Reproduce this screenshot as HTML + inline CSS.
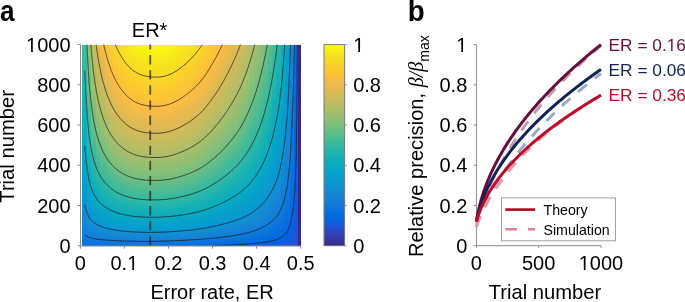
<!DOCTYPE html><html><head><meta charset="utf-8"><style>
html,body{margin:0;padding:0;background:#fff;}
#root{position:relative;width:685px;height:302px;overflow:hidden;background:#fff;}
#hm div{position:absolute;top:0;height:100%;}
svg{position:absolute;left:0;top:0;will-change:transform;}
text{font-family:"Liberation Sans", sans-serif;font-size:20px;}
.pl{font-weight:bold;font-size:28px;}
.lg{font-size:14.2px;}
.ax{stroke:#8c8c8c;stroke-width:1;fill:none;}
.ct{stroke:#1a1a1a;stroke-width:1;fill:none;stroke-opacity:0.72;}
</style></head><body><div id="root"><div id="hm" style="position:absolute;left:0;top:44.60px;width:685px;height:201.10px"><div style="left:82px;width:5px;background:linear-gradient(180deg,#43bb97 0.00%,#14b0b5 36.57%,#08aac0 51.00%,#06a1cc 66.17%,#0997d1 76.37%,#1486d4 88.06%,#127bd9 94.53%,#0972de 98.76%,#056de0 100.00%)"></div><div style="left:87px;width:4px;background:linear-gradient(180deg,#95bf71 0.00%,#71bf80 18.41%,#39b99d 41.79%,#12afb7 60.70%,#08aac1 68.41%,#06a0cd 78.61%,#0b95d2 84.83%,#1486d4 91.54%,#117bd9 96.02%,#0972de 99.00%,#056de0 100.00%)"></div><div style="left:91px;width:5px;background:linear-gradient(180deg,#c3bc5f 0.00%,#9cbf6e 20.15%,#78bf7d 34.33%,#48bb95 49.75%,#1cb2b0 64.93%,#09acbe 73.13%,#06a5c8 78.86%,#0998d1 86.32%,#1487d3 92.54%,#127cd8 96.27%,#0a72de 99.00%,#056de0 100.00%)"></div><div style="left:96px;width:4px;background:linear-gradient(180deg,#e2b952 0.00%,#b6bd64 21.89%,#90bf73 36.57%,#6bbf83 47.76%,#2db7a4 64.18%,#0eaeba 74.38%,#07a9c3 78.86%,#079bd0 86.82%,#1486d4 93.53%,#127bd9 96.77%,#0971de 99.25%,#056de0 100.00%)"></div><div style="left:100px;width:5px;background:linear-gradient(180deg,#f8bb44 0.00%,#ddba54 13.68%,#b2bd66 32.09%,#8dbf75 44.53%,#68be84 54.23%,#2bb6a6 68.66%,#0eaeba 77.11%,#07a9c3 81.09%,#079bd0 88.06%,#1485d4 94.28%,#117ad9 97.26%,#0770df 99.50%,#056de0 100.00%)"></div><div style="left:105px;width:4px;background:linear-gradient(180deg,#fec535 0.00%,#fcbd3f 6.47%,#eeb94b 13.93%,#bfbc60 33.33%,#98bf70 46.27%,#74bf7f 55.47%,#3cba9b 67.16%,#15b1b4 76.62%,#08aac0 81.34%,#06a2cb 86.07%,#0997d1 90.05%,#1487d3 94.28%,#127cd8 97.01%,#0972de 99.25%,#056de0 100.00%)"></div><div style="left:109px;width:4px;background:linear-gradient(180deg,#fbd02c 0.00%,#fec13a 9.95%,#fabc42 14.43%,#e7b94f 22.89%,#babd63 39.80%,#94bf72 51.00%,#6fbf81 59.45%,#31b8a2 71.64%,#10afb8 79.60%,#07aac2 83.08%,#079dcf 89.05%,#0d92d2 92.04%,#1485d4 95.02%,#1079da 97.76%,#056de0 100.00%)"></div><div style="left:113px;width:5px;background:linear-gradient(180deg,#f7d826 0.00%,#ffc338 13.93%,#fbbd40 18.41%,#ebb94d 25.87%,#bcbd62 42.29%,#95bf71 53.23%,#70bf81 61.44%,#32b8a1 72.89%,#11afb7 80.35%,#07aac1 83.83%,#069ece 89.05%,#0b95d2 91.79%,#1486d4 95.02%,#127cd8 97.26%,#0972de 99.25%,#056de0 100.00%)"></div><div style="left:118px;width:4px;background:linear-gradient(180deg,#f5e020 0.00%,#ffc338 17.91%,#fbbc40 22.14%,#eab94e 29.60%,#bcbd62 45.02%,#95bf71 55.47%,#6fbf81 63.18%,#32b8a1 74.13%,#11afb8 81.34%,#07aac1 84.58%,#079dcf 90.05%,#0e92d2 92.79%,#1486d4 95.27%,#127bd9 97.51%,#0871df 99.50%,#056de0 100.00%)"></div><div style="left:122px;width:5px;background:linear-gradient(180deg,#f5e71b 0.00%,#fad32a 11.19%,#fec238 21.14%,#fbbc41 25.12%,#e9b94e 32.34%,#bbbd62 47.01%,#95bf71 56.97%,#70bf81 64.43%,#32b8a2 75.12%,#10afb8 82.09%,#07aac1 85.07%,#079ecf 90.05%,#0c94d2 92.54%,#1485d4 95.52%,#117bd9 97.76%,#0871de 99.50%,#056de0 100.00%)"></div><div style="left:127px;width:4px;background:linear-gradient(180deg,#f5ed17 0.00%,#f7db24 9.20%,#ffc338 23.13%,#fbbc40 27.11%,#e9b94e 34.08%,#bbbd62 48.51%,#95bf71 58.21%,#70bf81 65.42%,#33b8a1 75.62%,#11afb7 82.34%,#08aac1 85.32%,#06a0cd 89.55%,#0a96d1 92.29%,#1486d4 95.52%,#117bd9 97.76%,#0871de 99.50%,#056de0 100.00%)"></div><div style="left:131px;width:4px;background:linear-gradient(180deg,#f6f214 0.00%,#f5de21 9.20%,#ffc337 24.63%,#fbbd40 28.61%,#ebb94d 35.07%,#bdbd61 49.25%,#96bf71 58.96%,#71bf80 65.92%,#37b99e 75.37%,#13b0b6 82.34%,#08abc0 85.32%,#06a3ca 88.81%,#0998d1 92.04%,#1486d3 95.52%,#127cd8 97.51%,#0a72de 99.25%,#056de0 100.00%)"></div><div style="left:135px;width:5px;background:linear-gradient(180deg,#f7f511 0.00%,#f5e31e 8.21%,#ffc238 26.12%,#fbbc41 29.85%,#e9b94e 36.57%,#bbbd62 50.50%,#95bf71 59.70%,#70bf81 66.67%,#32b8a1 76.62%,#11afb8 83.08%,#08aac1 85.82%,#06a1cd 89.80%,#0a96d1 92.54%,#1487d3 95.52%,#127dd8 97.51%,#0a73de 99.25%,#056de0 100.00%)"></div><div style="left:140px;width:4px;background:linear-gradient(180deg,#f8f80f 0.00%,#f5e41d 8.71%,#ffc238 26.87%,#fbbc40 30.60%,#eab94e 37.06%,#bcbd62 50.75%,#96bf71 59.95%,#71bf80 66.92%,#33b8a0 76.62%,#11afb7 83.08%,#07aac1 86.07%,#069fce 90.30%,#0b95d1 92.79%,#1487d3 95.52%,#127dd8 97.51%,#0a73de 99.25%,#056de0 100.00%)"></div><div style="left:144px;width:5px;background:linear-gradient(180deg,#f9fa0e 0.00%,#f5e41d 9.20%,#ffc238 27.36%,#fbbc41 31.09%,#eab94e 37.56%,#bcbd62 51.24%,#95bf71 60.45%,#70bf80 67.16%,#33b8a1 76.87%,#11afb8 83.33%,#08aac1 86.07%,#06a0cd 90.05%,#0a97d1 92.54%,#1487d3 95.52%,#137dd8 97.51%,#0a73de 99.25%,#056de0 100.00%)"></div><div style="left:149px;width:4px;background:linear-gradient(180deg,#f9fb0e 0.00%,#f5e41d 9.45%,#ffc338 27.61%,#fbbc41 31.34%,#eab94e 37.81%,#bbbd62 51.49%,#94bf71 60.70%,#70bf81 67.41%,#32b8a1 77.11%,#11afb7 83.33%,#08aac1 86.07%,#06a1cd 90.05%,#0a97d1 92.54%,#1487d3 95.52%,#137dd8 97.51%,#0a73de 99.25%,#056de0 100.00%)"></div><div style="left:153px;width:4px;background:linear-gradient(180deg,#f9fb0e 0.00%,#f5e51d 9.45%,#ffc338 27.61%,#fbbc40 31.34%,#eab94e 37.81%,#bbbd62 51.49%,#94bf71 60.70%,#70bf81 67.41%,#32b8a1 77.11%,#11afb7 83.33%,#08aac1 86.07%,#06a0cd 90.05%,#0a97d1 92.54%,#1487d3 95.52%,#127dd8 97.51%,#0a72de 99.25%,#046de0 100.00%)"></div><div style="left:157px;width:5px;background:linear-gradient(180deg,#f9fb0e 0.00%,#f5e51d 9.45%,#ffc338 27.61%,#fbbc41 31.34%,#eab94e 37.81%,#bbbd62 51.49%,#95bf71 60.45%,#71bf80 67.16%,#34b8a0 76.62%,#12afb7 83.08%,#08aac0 85.82%,#06a2cb 89.30%,#0998d1 92.29%,#1487d3 95.52%,#127cd8 97.51%,#0972de 99.25%,#046ce0 100.00%)"></div><div style="left:162px;width:4px;background:linear-gradient(180deg,#f9fa0e 0.00%,#f5e41d 9.20%,#ffc238 27.36%,#fbbc41 31.09%,#eab94e 37.56%,#bbbd62 51.24%,#94bf71 60.45%,#70bf81 67.16%,#32b8a1 76.87%,#10afb8 83.33%,#07a9c2 86.32%,#079cd0 91.29%,#1485d4 95.77%,#1079da 98.01%,#046ce0 100.00%)"></div><div style="left:166px;width:5px;background:linear-gradient(180deg,#f8f810 0.00%,#f5e41d 8.71%,#ffc238 26.87%,#fbbc41 30.60%,#eab94e 37.06%,#bcbd62 50.75%,#95bf71 59.95%,#70bf81 66.92%,#32b8a1 76.62%,#11afb8 83.08%,#08aac1 85.82%,#06a0cd 90.05%,#0b96d1 92.54%,#1486d4 95.52%,#127cd8 97.51%,#0971de 99.25%,#036be0 100.00%)"></div><div style="left:171px;width:4px;background:linear-gradient(180deg,#f7f512 0.00%,#f5e31e 8.21%,#ffc238 25.87%,#fbbc40 29.60%,#e9b94e 36.32%,#bbbd62 50.25%,#95bf71 59.45%,#70bf81 66.42%,#32b8a1 76.37%,#11afb8 82.84%,#08aac1 85.57%,#06a0cd 89.80%,#0a96d1 92.29%,#1487d3 95.27%,#127dd8 97.26%,#0a72de 99.00%,#036be1 100.00%)"></div><div style="left:175px;width:4px;background:linear-gradient(180deg,#f6f214 0.00%,#f5de21 9.20%,#ffc338 24.63%,#fbbc41 28.61%,#eab94e 35.32%,#bbbd62 49.50%,#94bf71 58.96%,#70bf81 65.92%,#33b8a1 75.87%,#11afb7 82.34%,#08aac1 85.32%,#06a0cd 89.55%,#0b95d1 92.29%,#1486d4 95.27%,#127cd8 97.26%,#0972de 99.00%,#036ae1 100.00%)"></div><div style="left:179px;width:5px;background:linear-gradient(180deg,#f5ed17 0.00%,#f6dc23 8.96%,#ffc337 23.13%,#fbbd40 27.11%,#ebb94d 33.58%,#bdbd61 48.01%,#97bf71 57.71%,#72bf80 64.93%,#38b99d 74.38%,#13b0b6 81.59%,#08aac0 84.83%,#06a2cb 88.56%,#0998d1 91.54%,#1487d3 95.02%,#127dd8 97.01%,#0b73dd 98.76%,#026ae1 100.00%)"></div><div style="left:184px;width:4px;background:linear-gradient(180deg,#f5e91a 0.00%,#f8d627 10.20%,#ffc338 21.64%,#fbbd40 25.62%,#ebb94d 32.34%,#bdbd61 47.01%,#96bf71 56.97%,#72bf80 64.18%,#38b99e 73.88%,#13b0b6 81.09%,#08abc0 84.33%,#06a3cb 88.06%,#0998d1 91.29%,#1487d3 94.78%,#127cd8 97.01%,#0871de 99.00%,#0269e1 100.00%)"></div><div style="left:188px;width:5px;background:linear-gradient(180deg,#f5e41d 0.00%,#ffc338 19.90%,#fbbc41 24.13%,#e9b94e 31.34%,#bbbd62 46.27%,#95bf71 56.22%,#70bf81 63.68%,#32b8a1 74.38%,#10afb8 81.34%,#07a9c2 84.58%,#079cd0 90.05%,#1486d4 94.78%,#127cd9 97.01%,#0870df 99.00%,#0269e1 100.00%)"></div><div style="left:193px;width:4px;background:linear-gradient(180deg,#f5e020 0.00%,#ffc238 17.91%,#fbbc41 22.14%,#e9b94e 29.60%,#bbbd62 44.78%,#95bf71 54.98%,#70bf81 62.69%,#32b8a1 73.63%,#10afb8 80.85%,#07aac2 84.08%,#079ccf 89.55%,#0f90d2 92.54%,#1484d4 95.02%,#1078da 97.51%,#0268e1 100.00%)"></div><div style="left:197px;width:5px;background:linear-gradient(180deg,#f6db24 0.00%,#ffc338 15.42%,#fbbc41 19.90%,#e9b94e 27.36%,#bcbd62 43.03%,#95bf71 53.73%,#6fbf81 61.69%,#32b8a2 72.89%,#11afb8 80.10%,#07aac1 83.33%,#06a0cd 88.06%,#0b95d1 91.04%,#1487d3 94.28%,#127dd8 96.52%,#0a72de 98.51%,#0268e1 100.00%)"></div><div style="left:202px;width:4px;background:linear-gradient(180deg,#f8d627 0.00%,#ffc338 12.69%,#fbbc41 17.16%,#eab94e 24.88%,#bbbd62 41.29%,#94bf71 52.24%,#6fbf81 60.45%,#32b8a1 71.89%,#11afb7 79.35%,#07aac1 82.84%,#069fce 88.06%,#0b95d2 90.80%,#1487d3 94.03%,#127cd8 96.52%,#0972de 98.51%,#0267e1 100.00%)"></div><div style="left:206px;width:4px;background:linear-gradient(180deg,#fbd02c 0.00%,#fec239 9.95%,#fabc42 14.43%,#e8b94f 22.64%,#babd62 39.30%,#94bf72 50.50%,#6ebf81 58.96%,#31b8a2 70.90%,#11afb8 78.61%,#07aac1 82.09%,#069ece 87.56%,#0c94d2 90.55%,#1486d3 93.78%,#127cd8 96.27%,#0971de 98.51%,#0269e1 99.75%,#0266e1 100.00%)"></div><div style="left:210px;width:5px;background:linear-gradient(180deg,#fdca31 0.00%,#fec03b 7.46%,#f5ba47 13.68%,#cebb5a 29.60%,#a5be6b 43.53%,#80bf7a 53.23%,#50bc90 63.18%,#23b4ab 72.89%,#0badbc 79.35%,#06a7c5 82.84%,#089ad0 88.56%,#1486d4 93.53%,#117bd9 96.27%,#0870df 98.51%,#0268e1 99.75%,#0266e1 100.00%)"></div><div style="left:215px;width:4px;background:linear-gradient(180deg,#ffc436 0.00%,#fcbd40 5.97%,#edb94c 13.68%,#bebc61 32.59%,#97bf70 45.27%,#72bf80 54.48%,#39b99d 66.42%,#14b0b5 75.62%,#08abc0 79.85%,#06a3cb 84.58%,#0998d1 88.56%,#1487d3 93.03%,#127cd8 95.77%,#0871de 98.26%,#0267e1 99.75%,#0265e1 100.00%)"></div><div style="left:219px;width:5px;background:linear-gradient(180deg,#febe3d 0.00%,#f3b948 6.97%,#c4bc5e 27.11%,#9cbf6e 41.04%,#78bf7d 51.00%,#45bb96 62.19%,#1bb2b0 72.39%,#09acbe 78.11%,#06a6c7 82.09%,#0999d1 87.81%,#1486d4 92.79%,#127cd8 95.52%,#0971de 98.01%,#0269e1 99.50%,#0364e1 100.00%)"></div><div style="left:224px;width:4px;background:linear-gradient(180deg,#f7ba45 0.00%,#d8ba56 15.17%,#adbe68 32.59%,#87bf77 44.53%,#5dbe8a 54.98%,#28b6a7 67.41%,#0daeba 75.37%,#06a8c3 79.35%,#079bd0 86.32%,#1486d4 92.54%,#117bd9 95.52%,#0871de 98.01%,#0268e1 99.50%,#0364e1 100.00%)"></div><div style="left:228px;width:4px;background:linear-gradient(180deg,#eeb94b 0.00%,#bfbc60 21.89%,#98bf70 36.57%,#74bf7f 47.01%,#3cba9b 60.45%,#15b0b4 71.39%,#08abc0 76.62%,#06a2cb 82.09%,#0997d1 86.82%,#1487d3 91.79%,#127cd8 95.02%,#0871de 97.76%,#0267e1 99.50%,#0363e1 100.00%)"></div><div style="left:232px;width:5px;background:linear-gradient(180deg,#e4b951 0.00%,#b7bd64 21.39%,#91bf73 35.57%,#6bbe83 46.52%,#2db7a4 62.44%,#0eaeba 72.39%,#07a9c3 76.87%,#089bd0 84.83%,#1486d4 91.54%,#127bd9 94.78%,#0971de 97.51%,#0268e1 99.25%,#0462e1 100.00%)"></div><div style="left:237px;width:4px;background:linear-gradient(180deg,#daba55 0.00%,#aebe67 20.65%,#89bf76 34.58%,#60be88 46.52%,#2ab6a6 61.19%,#0eaeba 70.90%,#07a9c3 75.37%,#089bd0 83.83%,#1486d4 91.04%,#117bd9 94.53%,#0870df 97.51%,#0267e1 99.25%,#0364e1 99.75%,#0561e0 100.00%)"></div><div style="left:241px;width:5px;background:linear-gradient(180deg,#cebb5a 0.00%,#a5be6b 19.65%,#81bf7a 33.08%,#51bd90 47.01%,#24b5aa 60.70%,#0badbc 70.15%,#06a7c5 75.12%,#0899d1 83.33%,#1486d4 90.30%,#127bd9 94.03%,#0870df 97.26%,#0268e1 99.00%,#0363e1 99.75%,#0761e0 100.00%)"></div><div style="left:246px;width:4px;background:linear-gradient(180deg,#c1bc60 0.00%,#99bf70 18.91%,#75bf7f 32.34%,#3eba9a 49.00%,#16b1b4 62.94%,#08aac0 70.15%,#06a2cb 77.11%,#0998d1 82.84%,#1486d3 89.30%,#127cd8 93.28%,#0871de 96.77%,#0267e1 99.00%,#0562e0 99.75%,#0960df 100.00%)"></div><div style="left:250px;width:4px;background:linear-gradient(180deg,#b2bd66 0.00%,#8cbf75 17.91%,#66be85 31.84%,#2bb6a5 51.49%,#0eaeba 63.93%,#07a9c3 69.40%,#079bd0 79.60%,#1485d4 88.81%,#117ad9 93.28%,#066fdf 97.01%,#0267e1 98.76%,#0363e1 99.50%,#0a5fdf 100.00%)"></div><div style="left:254px;width:5px;background:linear-gradient(180deg,#a2be6c 0.00%,#7dbf7b 16.92%,#4dbc92 34.58%,#20b4ad 51.99%,#0aacbe 63.18%,#06a6c7 69.90%,#0999d1 79.10%,#1486d4 87.31%,#127bd9 92.04%,#0871de 96.02%,#0267e1 98.51%,#0363e1 99.25%,#0c5ede 100.00%)"></div><div style="left:259px;width:4px;background:linear-gradient(180deg,#8fbf74 0.00%,#6abe83 16.67%,#2cb7a5 41.54%,#0eaeba 56.47%,#07a9c3 63.18%,#089bd0 75.62%,#1486d4 86.07%,#117bd9 91.29%,#0770df 95.77%,#0267e1 98.26%,#0462e1 99.25%,#0e5dde 100.00%)"></div><div style="left:263px;width:5px;background:linear-gradient(180deg,#79bf7d 0.00%,#47bb95 22.14%,#1cb3af 42.79%,#09acbe 54.98%,#06a5c8 63.18%,#0998d1 74.38%,#1487d3 83.83%,#127cd8 89.80%,#0871de 94.78%,#0267e1 98.01%,#0462e1 99.00%,#0f5cdd 100.00%)"></div><div style="left:268px;width:4px;background:linear-gradient(180deg,#5fbe88 0.00%,#29b6a7 27.36%,#0daeba 45.27%,#06a8c3 53.73%,#089ad0 69.15%,#1485d4 82.34%,#117ad9 89.05%,#066fdf 94.78%,#0267e1 97.51%,#0562e0 98.76%,#125adc 100.00%)"></div><div style="left:272px;width:4px;background:linear-gradient(180deg,#43bb97 0.00%,#1ab2b1 26.37%,#09abbf 41.04%,#06a5c8 51.99%,#0998d1 66.17%,#1487d3 78.61%,#127cd8 86.32%,#0871de 92.79%,#0267e1 97.01%,#0462e1 98.26%,#115bdc 99.75%,#1459da 100.00%)"></div><div style="left:276px;width:5px;background:linear-gradient(180deg,#29b6a7 0.00%,#0daebb 24.63%,#06a8c3 36.32%,#089ad0 57.21%,#1486d4 75.12%,#117bd9 84.33%,#076fdf 92.04%,#0267e1 96.27%,#0462e1 97.76%,#115adc 99.50%,#1758d9 100.00%)"></div><div style="left:281px;width:4px;background:linear-gradient(180deg,#0faeb9 0.00%,#07a9c2 15.67%,#079bd0 43.78%,#1485d4 67.91%,#117ad9 79.85%,#066fdf 90.05%,#0267e1 94.78%,#0462e1 96.77%,#115bdc 99.00%,#1a56d7 100.00%)"></div><div style="left:285px;width:5px;background:linear-gradient(180deg,#06a3ca 0.00%,#0998d1 25.87%,#1486d3 52.24%,#127cd8 68.91%,#0871df 83.33%,#0267e1 92.29%,#0462e1 95.02%,#135adb 98.51%,#1c55d6 100.00%)"></div><div style="left:290px;width:4px;background:linear-gradient(180deg,#1389d3 0.00%,#137ed7 33.08%,#0b73dd 60.95%,#0267e1 83.58%,#0462e1 89.80%,#135adb 96.27%,#1f53d4 100.00%)"></div><div style="left:294px;width:4px;background:linear-gradient(180deg,#0870df 0.00%,#0267e1 50.25%,#0562e0 66.92%,#135adb 86.32%,#2152d2 100.00%)"></div><div style="left:298px;width:3px;background:linear-gradient(180deg,#352a87 0.00%,#352a87 100.00%)"></div></div><div style="position:absolute;left:324.0px;top:44.6px;width:20.6px;height:201.1px;background:linear-gradient(0deg,#352a87 0.00%,#36369f 3.12%,#3243b9 6.25%,#2152d3 9.38%,#0462e0 12.50%,#046ce0 15.62%,#0c74dd 18.75%,#127cd8 21.88%,#1484d4 25.00%,#118dd2 28.12%,#0a97d1 31.25%,#069fce 34.38%,#06a6c7 37.50%,#09abbf 40.62%,#13b0b6 43.75%,#21b4ac 46.88%,#33b8a1 50.00%,#47bb95 53.12%,#5ebe89 56.25%,#75bf7e 59.38%,#8bbf75 62.50%,#9fbe6d 65.62%,#b1bd66 68.75%,#c2bc5f 71.88%,#d3bb58 75.00%,#e3b951 78.12%,#f2b949 81.25%,#febf3c 84.38%,#fec932 87.50%,#f9d329 90.62%,#f5de21 93.75%,#f5eb18 96.88%,#f9fb0e 100.00%)"></div><svg width="685" height="302" viewBox="0 0 685 302"><path d="M213.1,245.7 216.9,245.6 220.6,245.4 225.8,245.3 227.1,245.2 230.2,245.1 232.8,244.9 234.6,244.9 237.8,244.7 239.0,244.6 242.2,244.4 243.4,244.4 246.1,244.2 247.8,244.1 249.5,243.9 252.2,243.7 255.3,243.4 256.6,243.3 257.7,243.2 259.9,242.9 261.0,242.8 261.9,242.7 263.7,242.4 265.4,242.2 266.9,241.9 268.3,241.7 269.6,241.4 270.7,241.2 271.8,240.9 272.9,240.7 273.8,240.4 274.7,240.2 275.6,239.9 276.4,239.7 277.1,239.4 277.8,239.2 278.5,238.9 279.0,238.7 280.0,238.2 280.9,237.7 281.8,237.2 282.5,236.7 283.1,236.3 283.5,235.9 284.1,235.4 284.6,234.9 285.1,234.4 285.6,233.9 286.0,233.4 286.4,232.9 286.8,232.4 287.2,231.9 287.5,231.4 287.9,230.6 288.2,229.9 288.6,229.1 288.9,228.4 289.2,227.6 289.4,226.8 289.7,226.1 289.9,225.3 290.1,224.6 290.3,223.8 290.5,223.1 290.7,222.3 290.9,221.6 291.1,220.8 291.2,220.1 291.4,219.3 291.6,218.6 291.7,217.8 291.8,217.0 292.0,216.3 292.1,215.5 292.2,214.8 292.4,214.0 292.5,213.3 292.6,212.5 292.7,211.8 292.8,211.0 292.9,210.3 293.0,209.5 293.1,208.7 293.2,208.0 293.3,207.2 293.4,206.5 293.5,205.7 293.5,205.0 293.6,204.2 293.7,203.5 293.8,202.7 293.8,202.0 293.9,201.2 294.0,200.5 294.0,199.7 294.1,198.9 294.2,198.2 294.2,197.4 294.3,196.7 294.3,195.9 294.4,195.2 294.5,194.4 294.5,193.7 294.6,192.9 294.6,192.2 294.7,191.4 294.7,190.6 294.8,189.9 294.8,189.1 294.9,188.1 294.9,187.1 295.0,186.1 295.0,185.1 295.1,184.1 295.1,183.1 295.2,182.1 295.2,181.1 295.3,180.1 295.3,179.1 295.4,178.1 295.4,177.1 295.5,176.1 295.5,175.1 295.6,174.1 295.6,173.1 295.6,172.0 295.7,171.0 295.7,170.0 295.8,169.0 295.8,168.0 295.8,167.0 295.9,166.0 295.9,165.0 295.9,164.0 296.0,163.0 296.0,162.0 296.0,161.0 296.1,160.0 296.1,159.0 296.1,158.0 296.2,157.0 296.2,156.0 296.2,155.0 296.2,153.9 296.3,152.9 296.3,151.9 296.3,150.9 296.3,149.9 296.3,148.9 296.3,147.9 296.4,146.9 296.4,145.9 296.4,144.9 296.4,143.9 296.4,142.9 296.4,141.9 296.4,140.9 296.4,139.9 296.5,138.9 296.5,137.9 296.5,136.9 296.5,135.8 296.5,134.8 296.5,133.8 296.5,132.8 296.5,131.8 296.5,130.8 296.5,129.8 296.6,128.8 296.6,127.8 296.6,126.8 296.6,125.8 296.6,124.8 296.6,123.8 296.6,122.8 296.6,121.8 296.6,120.8 296.6,119.8 296.7,118.8 296.7,117.8 296.7,116.7 296.7,115.7 296.7,114.7 296.7,113.7 296.7,112.7 296.7,111.7 296.7,110.7 296.7,109.7 296.8,108.7 296.8,107.7 296.8,106.7 296.8,105.7 296.8,104.7 296.8,103.7 296.8,102.7 296.8,101.7 296.8,100.7 296.8,99.7 296.8,98.6 296.8,97.6 296.9,96.6 296.9,95.6 296.9,94.6 296.9,93.6 296.9,92.6 296.9,91.6 296.9,90.6 296.9,89.6 296.9,88.6 296.9,87.6 296.9,86.6 296.9,85.6 297.0,84.6 297.0,83.6 297.0,82.6 297.0,81.6 297.0,80.5 297.0,79.5 297.0,78.5 297.0,77.5 297.0,76.5 297.0,75.5 297.0,74.5 297.0,73.5 297.0,72.5 297.0,71.5 297.1,70.5 297.1,69.5 297.1,68.5 297.1,67.5 297.1,66.5 297.1,65.5 297.1,64.5 297.1,63.5 297.1,62.4 297.1,61.4 297.1,60.4 297.1,59.4 297.1,58.4 297.1,57.4 297.1,56.4 297.2,55.4 297.2,54.4 297.2,53.4 297.2,52.4 297.2,51.4 297.2,50.4 297.2,49.4 297.2,48.4 297.2,47.4 297.2,46.4 297.2,45.4 297.2,44.6" class="ct"/>
<path d="M84.7,234.9 85.4,235.4 86.1,235.9 86.9,236.4 87.8,236.9 88.8,237.4 89.5,237.7 90.4,237.9 91.4,238.2 92.5,238.4 93.5,238.6 95.3,238.9 97.1,239.2 97.9,239.3 99.1,239.4 101.5,239.7 102.3,239.8 104.2,239.9 106.7,240.1 111.0,240.4 115.5,240.7 120.0,240.9 121.4,240.9 124.4,241.0 128.8,241.2 129.9,241.2 133.2,241.2 137.6,241.3 142.0,241.4 146.4,241.4 150.8,241.4 155.2,241.3 159.6,241.2 164.1,241.1 168.5,240.9 172.9,240.8 175.3,240.7 177.3,240.6 181.0,240.4 186.1,240.2 190.5,239.9 194.9,239.7 198.7,239.4 202.1,239.2 203.7,239.0 205.2,238.9 208.1,238.7 210.7,238.4 212.5,238.2 215.7,237.9 216.9,237.8 218.0,237.7 220.2,237.4 221.4,237.3 222.3,237.2 224.3,236.9 225.8,236.7 228.0,236.4 229.8,236.1 231.5,235.9 233.2,235.6 234.6,235.4 236.3,235.1 237.7,234.9 239.0,234.7 240.4,234.4 241.7,234.1 242.9,233.9 244.0,233.6 245.1,233.4 246.2,233.1 247.2,232.9 248.2,232.6 249.1,232.4 250.0,232.1 250.9,231.9 251.8,231.6 252.6,231.4 253.4,231.1 254.1,230.9 254.9,230.6 255.6,230.4 256.3,230.1 257.0,229.9 257.6,229.6 258.2,229.4 258.8,229.1 259.4,228.9 260.0,228.6 260.6,228.4 261.2,228.1 262.2,227.6 263.2,227.1 264.1,226.6 265.0,226.1 265.9,225.6 266.7,225.1 267.5,224.6 268.2,224.1 268.9,223.6 269.6,223.1 270.3,222.6 270.9,222.1 271.5,221.6 272.1,221.1 272.6,220.6 273.2,220.1 273.7,219.6 274.2,219.1 274.7,218.6 275.1,218.0 275.6,217.5 276.0,217.0 276.4,216.5 276.8,216.0 277.2,215.5 277.6,215.0 278.0,214.5 278.3,214.0 278.7,213.6 278.9,213.0 279.3,212.3 279.7,211.5 280.1,210.8 280.5,210.0 280.8,209.3 281.1,208.5 281.5,207.7 281.8,207.0 282.1,206.2 282.4,205.5 282.7,204.7 283.0,204.0 283.2,203.2 283.4,202.5 283.7,201.7 283.9,201.0 284.1,200.2 284.3,199.4 284.5,198.7 284.7,197.9 284.9,197.2 285.1,196.4 285.3,195.7 285.4,194.9 285.6,194.2 285.8,193.4 286.0,192.7 286.1,191.9 286.3,191.2 286.4,190.4 286.6,189.6 286.7,188.9 286.9,188.1 287.0,187.4 287.2,186.6 287.3,185.9 287.4,185.1 287.6,184.4 287.6,183.6 287.7,182.9 287.8,182.1 287.9,181.3 288.0,180.6 288.1,179.8 288.2,179.1 288.3,178.3 288.4,177.6 288.4,176.8 288.5,176.1 288.6,175.3 288.7,174.6 288.8,173.8 288.8,173.1 288.9,172.3 289.0,171.5 289.1,170.8 289.1,170.0 289.2,169.3 289.3,168.5 289.3,167.8 289.4,167.0 289.5,166.3 289.5,165.5 289.6,164.8 289.7,164.0 289.7,163.2 289.8,162.5 289.8,161.7 289.9,161.0 290.0,160.2 290.0,159.5 290.1,158.7 290.1,158.0 290.2,157.2 290.2,156.5 290.3,155.7 290.3,155.0 290.4,154.2 290.4,153.4 290.5,152.7 290.5,151.9 290.6,151.2 290.6,150.4 290.7,149.7 290.7,148.9 290.8,148.2 290.8,147.4 290.9,146.7 290.9,145.7 291.0,144.6 291.1,143.6 291.1,142.6 291.2,141.6 291.2,140.6 291.3,139.6 291.3,138.6 291.4,137.6 291.5,136.6 291.5,135.6 291.6,134.6 291.6,133.6 291.7,132.6 291.7,131.6 291.8,130.6 291.8,129.6 291.9,128.6 291.9,127.6 291.9,126.5 292.0,125.5 292.0,124.5 292.1,123.5 292.1,122.5 292.2,121.5 292.2,120.5 292.2,119.5 292.3,118.5 292.3,117.5 292.4,116.5 292.4,115.5 292.4,114.5 292.5,113.5 292.5,112.5 292.6,111.5 292.6,110.5 292.6,109.5 292.7,108.4 292.7,107.4 292.7,106.4 292.8,105.4 292.8,104.4 292.8,103.4 292.9,102.4 292.9,101.4 292.9,100.4 293.0,99.4 293.0,98.4 293.0,97.4 293.1,96.4 293.1,95.4 293.1,94.4 293.2,93.4 293.2,92.4 293.2,91.4 293.2,90.4 293.3,89.3 293.3,88.3 293.3,87.3 293.4,86.3 293.4,85.3 293.4,84.3 293.4,83.3 293.5,82.3 293.5,81.3 293.5,80.3 293.5,79.3 293.6,78.3 293.6,77.3 293.6,76.3 293.7,75.3 293.7,74.3 293.7,73.3 293.7,72.3 293.8,71.2 293.8,70.2 293.8,69.2 293.8,68.2 293.8,67.2 293.9,66.2 293.9,65.2 293.9,64.2 293.9,63.2 294.0,62.2 294.0,61.2 294.0,60.2 294.0,59.2 294.0,58.2 294.1,57.2 294.1,56.2 294.1,55.2 294.1,54.2 294.2,53.1 294.2,52.1 294.2,51.1 294.2,50.1 294.2,49.1 294.3,48.1 294.3,47.1 294.3,46.1 294.3,45.1 294.3,44.6" class="ct"/>
<path d="M84.7,204.9 84.9,205.7 85.1,206.5 85.3,207.2 85.5,208.0 85.8,208.7 86.0,209.5 86.2,210.3 86.5,211.0 86.7,211.8 87.0,212.5 87.3,213.3 87.6,214.0 87.9,214.8 88.2,215.5 88.5,216.3 88.9,217.0 89.3,217.8 89.7,218.3 90.1,218.8 90.5,219.3 91.0,219.8 91.4,220.3 91.9,220.8 92.4,221.3 92.9,221.8 93.4,222.3 94.1,222.8 94.9,223.3 95.7,223.8 96.6,224.3 97.5,224.8 98.5,225.3 99.1,225.6 99.7,225.8 100.3,226.1 100.9,226.3 101.6,226.6 102.2,226.8 103.0,227.1 103.7,227.3 104.6,227.6 105.4,227.9 106.2,228.1 107.2,228.4 108.2,228.6 109.3,228.9 110.3,229.1 111.2,229.3 112.8,229.6 114.2,229.9 115.6,230.1 117.3,230.4 119.1,230.6 120.0,230.7 121.1,230.9 123.3,231.1 124.4,231.2 125.8,231.4 128.7,231.6 132.4,231.9 133.2,231.9 137.4,232.1 142.0,232.3 146.4,232.4 147.4,232.4 150.8,232.4 152.9,232.4 155.2,232.3 159.6,232.2 162.5,232.1 164.1,232.1 168.3,231.9 172.5,231.6 176.1,231.4 177.3,231.3 179.3,231.1 181.7,230.9 185.0,230.6 186.1,230.5 187.5,230.4 189.9,230.1 192.2,229.9 194.3,229.6 196.3,229.4 198.2,229.1 199.3,229.0 200.0,228.9 201.7,228.6 203.4,228.4 204.8,228.1 206.2,227.9 207.6,227.6 208.9,227.3 210.2,227.1 211.4,226.8 212.5,226.6 213.8,226.3 215.0,226.1 216.2,225.8 216.9,225.7 218.4,225.3 219.4,225.1 220.5,224.8 221.4,224.6 222.4,224.3 223.4,224.1 224.4,223.8 225.3,223.6 226.2,223.3 227.1,223.1 228.0,222.8 228.8,222.6 229.7,222.3 230.5,222.1 231.3,221.8 232.1,221.6 232.9,221.3 233.7,221.1 234.5,220.8 235.2,220.6 236.0,220.3 236.7,220.1 237.4,219.8 238.1,219.6 238.8,219.3 239.4,219.1 240.0,218.8 240.6,218.6 241.2,218.3 241.8,218.0 242.4,217.8 243.0,217.5 243.5,217.3 244.6,216.8 245.6,216.3 246.6,215.8 247.5,215.3 248.4,214.8 249.3,214.3 250.2,213.8 251.0,213.3 251.8,212.8 252.6,212.3 253.3,211.8 254.0,211.3 254.7,210.8 255.4,210.3 256.1,209.8 256.6,209.4 257.1,209.0 257.7,208.5 258.2,208.0 258.8,207.5 259.4,207.0 259.9,206.5 260.5,206.0 261.0,205.5 261.5,205.0 262.0,204.5 262.5,204.0 262.9,203.5 263.4,203.0 263.8,202.5 264.3,202.0 264.7,201.5 265.1,201.0 265.5,200.5 265.9,199.9 266.3,199.4 266.7,198.9 267.0,198.4 267.4,197.9 267.8,197.4 268.1,196.9 268.5,196.4 268.8,195.9 269.1,195.4 269.5,194.9 269.8,194.4 270.1,193.9 270.5,193.2 270.9,192.4 271.4,191.7 271.8,190.9 272.2,190.1 272.6,189.4 273.0,188.6 273.3,187.9 273.7,187.1 274.1,186.4 274.4,185.6 274.7,184.9 275.0,184.1 275.4,183.4 275.7,182.6 276.0,181.9 276.2,181.1 276.5,180.3 276.8,179.6 277.1,178.8 277.4,178.1 277.6,177.3 277.9,176.6 278.2,175.8 278.4,175.1 278.7,174.3 278.9,173.6 279.0,172.8 279.2,172.0 279.4,171.3 279.6,170.5 279.8,169.8 279.9,169.0 280.1,168.3 280.3,167.5 280.4,166.8 280.6,166.0 280.8,165.3 280.9,164.5 281.1,163.8 281.2,163.0 281.4,162.2 281.5,161.5 281.7,160.7 281.8,160.0 282.0,159.2 282.1,158.5 282.3,157.7 282.4,157.0 282.5,156.2 282.7,155.5 282.8,154.7 282.9,153.9 283.1,153.2 283.2,152.4 283.3,151.7 283.4,150.9 283.5,150.2 283.6,149.4 283.7,148.7 283.8,147.9 283.9,147.2 284.0,146.4 284.1,145.7 284.2,144.9 284.3,144.1 284.4,143.4 284.5,142.6 284.6,141.9 284.7,141.1 284.7,140.4 284.8,139.6 284.9,138.9 285.0,138.1 285.1,137.4 285.2,136.6 285.3,135.8 285.3,135.1 285.4,134.3 285.5,133.6 285.6,132.8 285.7,132.1 285.8,131.3 285.8,130.6 285.9,129.8 286.0,129.1 286.1,128.3 286.1,127.6 286.2,126.8 286.3,126.0 286.4,125.3 286.4,124.5 286.5,123.8 286.6,123.0 286.6,122.3 286.7,121.5 286.8,120.8 286.9,120.0 286.9,119.3 287.0,118.5 287.1,117.8 287.1,117.0 287.2,116.2 287.3,115.5 287.3,114.7 287.4,114.0 287.4,113.2 287.5,112.5 287.6,111.5 287.6,110.5 287.7,109.5 287.7,108.4 287.8,107.4 287.8,106.4 287.9,105.4 288.0,104.4 288.0,103.4 288.1,102.4 288.1,101.4 288.2,100.4 288.2,99.4 288.3,98.4 288.3,97.4 288.4,96.4 288.4,95.4 288.5,94.4 288.5,93.4 288.6,92.4 288.6,91.4 288.7,90.4 288.7,89.3 288.8,88.3 288.8,87.3 288.9,86.3 288.9,85.3 289.0,84.3 289.0,83.3 289.0,82.3 289.1,81.3 289.1,80.3 289.2,79.3 289.2,78.3 289.3,77.3 289.3,76.3 289.3,75.3 289.4,74.3 289.4,73.3 289.5,72.3 289.5,71.2 289.5,70.2 289.6,69.2 289.6,68.2 289.7,67.2 289.7,66.2 289.7,65.2 289.8,64.2 289.8,63.2 289.8,62.2 289.9,61.2 289.9,60.2 290.0,59.2 290.0,58.2 290.0,57.2 290.1,56.2 290.1,55.2 290.1,54.2 290.2,53.1 290.2,52.1 290.2,51.1 290.3,50.1 290.3,49.1 290.3,48.1 290.4,47.1 290.4,46.1 290.4,45.1 290.4,44.6" class="ct"/>
<path d="M84.7,145.9 84.8,146.9 84.9,147.7 84.9,148.4 85.0,149.2 85.1,149.9 85.1,150.7 85.2,151.4 85.3,152.2 85.4,152.9 85.4,153.7 85.5,154.5 85.6,155.2 85.7,156.0 85.7,156.7 85.8,157.5 85.9,158.2 86.0,159.0 86.1,159.7 86.1,160.5 86.2,161.2 86.3,162.0 86.4,162.7 86.5,163.5 86.6,164.3 86.7,165.0 86.8,165.8 86.9,166.5 87.0,167.3 87.1,168.0 87.2,168.8 87.3,169.5 87.4,170.3 87.5,171.0 87.6,171.8 87.7,172.5 87.8,173.3 88.0,174.1 88.1,174.8 88.2,175.6 88.3,176.3 88.5,177.1 88.6,177.8 88.7,178.6 88.9,179.3 89.0,180.1 89.1,180.8 89.4,181.6 89.6,182.4 89.8,183.1 90.0,183.9 90.2,184.6 90.5,185.4 90.7,186.1 91.0,186.9 91.2,187.6 91.5,188.4 91.8,189.1 92.0,189.9 92.3,190.6 92.6,191.4 92.9,192.2 93.2,192.9 93.5,193.7 93.9,194.4 94.2,194.9 94.5,195.4 94.8,195.9 95.2,196.4 95.5,196.9 95.8,197.4 96.1,197.9 96.5,198.4 96.8,198.9 97.2,199.4 97.5,199.9 97.9,200.5 98.4,201.0 98.8,201.5 99.3,202.0 99.8,202.5 100.3,203.0 100.8,203.5 101.4,204.0 101.9,204.5 102.3,204.9 103.1,205.5 103.8,206.0 104.5,206.5 105.2,207.0 105.9,207.5 106.6,208.0 107.5,208.5 108.4,209.0 109.3,209.5 110.3,210.0 111.2,210.4 111.9,210.8 112.5,211.0 113.1,211.3 113.7,211.5 114.3,211.8 114.9,212.0 115.6,212.3 116.3,212.5 117.1,212.8 117.9,213.0 118.7,213.3 119.5,213.5 120.3,213.8 121.3,214.0 122.3,214.3 123.3,214.5 124.4,214.8 125.7,215.0 127.0,215.3 128.3,215.5 129.9,215.8 131.6,216.0 133.2,216.3 135.8,216.5 137.6,216.7 138.6,216.8 142.0,217.0 146.4,217.2 149.8,217.3 150.8,217.3 152.8,217.3 155.2,217.3 159.6,217.2 162.0,217.0 164.1,216.9 166.2,216.8 168.5,216.6 169.4,216.5 171.9,216.3 172.9,216.2 174.1,216.0 176.2,215.8 177.3,215.7 178.1,215.5 179.9,215.3 181.6,215.0 183.2,214.8 184.7,214.5 186.1,214.3 187.5,214.0 188.9,213.8 190.2,213.5 191.4,213.3 192.6,213.0 193.8,212.8 194.9,212.5 196.1,212.3 197.1,212.0 198.1,211.8 199.2,211.5 200.1,211.3 201.0,211.0 201.9,210.8 202.8,210.5 203.7,210.3 204.5,210.0 205.2,209.8 206.0,209.5 206.7,209.3 207.4,209.0 208.1,208.8 208.9,208.5 209.5,208.2 210.2,208.0 210.9,207.7 211.5,207.5 212.2,207.2 212.8,207.0 213.5,206.7 214.1,206.5 214.7,206.2 215.4,206.0 216.0,205.7 216.6,205.5 217.2,205.2 217.8,205.0 218.3,204.7 218.9,204.5 219.5,204.2 220.0,204.0 220.6,203.7 221.4,203.4 222.2,203.0 223.2,202.5 224.2,202.0 225.2,201.5 225.8,201.2 226.7,200.7 227.6,200.2 228.5,199.7 229.4,199.2 230.2,198.8 230.8,198.4 231.7,197.9 232.5,197.4 233.4,196.9 234.2,196.4 235.0,195.9 235.8,195.4 236.5,194.9 237.3,194.4 238.0,193.9 238.8,193.4 239.5,192.9 240.1,192.4 240.7,191.9 241.4,191.4 242.0,190.9 242.6,190.4 243.2,189.9 243.8,189.4 244.3,188.9 244.9,188.4 245.4,187.9 246.0,187.4 246.5,186.9 247.0,186.4 247.5,185.9 248.0,185.4 248.5,184.9 248.9,184.4 249.4,183.9 249.9,183.4 250.3,182.9 250.7,182.4 251.2,181.9 251.6,181.3 252.0,180.8 252.5,180.3 252.8,179.8 253.2,179.3 253.6,178.8 254.0,178.3 254.4,177.8 254.7,177.3 255.1,176.8 255.5,176.3 255.8,175.8 256.2,175.3 256.5,174.8 256.9,174.3 257.2,173.8 257.5,173.3 257.8,172.8 258.1,172.3 258.4,171.8 258.7,171.3 259.0,170.8 259.3,170.3 259.8,169.5 260.2,168.8 260.6,168.0 261.0,167.3 261.3,166.8 261.7,166.0 262.1,165.3 262.5,164.5 262.8,163.8 263.2,163.0 263.5,162.2 263.9,161.5 264.3,160.7 264.6,160.0 264.9,159.2 265.3,158.5 265.6,157.7 265.9,157.0 266.2,156.2 266.5,155.5 266.8,154.7 267.1,153.9 267.4,153.2 267.6,152.4 267.9,151.7 268.2,150.9 268.5,150.2 268.7,149.4 269.0,148.7 269.3,147.9 269.5,147.2 269.8,146.4 270.0,145.7 270.3,144.9 270.5,144.1 270.7,143.4 270.9,142.6 271.2,141.9 271.4,141.1 271.6,140.4 271.8,139.6 272.0,138.9 272.2,138.1 272.5,137.4 272.7,136.6 272.9,135.8 273.1,135.1 273.3,134.3 273.5,133.6 273.7,132.8 273.9,132.1 274.0,131.3 274.2,130.6 274.4,129.8 274.6,129.1 274.7,128.3 274.9,127.6 275.1,126.8 275.2,126.0 275.4,125.3 275.6,124.5 275.7,123.8 275.9,123.0 276.0,122.3 276.2,121.5 276.3,120.8 276.5,120.0 276.6,119.3 276.8,118.5 276.9,117.8 277.1,117.0 277.2,116.2 277.4,115.5 277.5,114.7 277.7,114.0 277.8,113.2 277.9,112.5 278.1,111.7 278.2,111.0 278.3,110.2 278.5,109.5 278.6,108.7 278.7,107.9 278.8,107.2 278.9,106.4 279.0,105.7 279.1,104.9 279.2,104.2 279.3,103.4 279.4,102.7 279.5,101.9 279.6,101.2 279.7,100.4 279.8,99.7 279.9,98.9 280.0,98.1 280.1,97.4 280.1,96.6 280.2,95.9 280.3,95.1 280.4,94.4 280.5,93.6 280.6,92.9 280.7,92.1 280.7,91.4 280.8,90.6 280.9,89.8 281.0,89.1 281.1,88.3 281.2,87.6 281.2,86.8 281.3,86.1 281.4,85.3 281.5,84.6 281.6,83.8 281.6,83.1 281.7,82.3 281.8,81.6 281.9,80.8 281.9,80.0 282.0,79.3 282.1,78.5 282.2,77.8 282.2,77.0 282.3,76.3 282.4,75.5 282.5,74.8 282.5,74.0 282.6,73.3 282.7,72.5 282.8,71.7 282.8,71.0 282.9,70.2 283.0,69.5 283.0,68.7 283.1,68.0 283.1,67.2 283.2,66.5 283.3,65.7 283.3,65.0 283.4,64.2 283.4,63.5 283.5,62.7 283.5,61.9 283.6,61.2 283.6,60.4 283.7,59.7 283.8,58.9 283.8,58.2 283.9,57.4 283.9,56.7 284.0,55.9 284.0,55.2 284.1,54.4 284.1,53.6 284.2,52.9 284.2,52.1 284.3,51.4 284.3,50.6 284.4,49.9 284.4,49.1 284.5,48.4 284.5,47.6 284.6,46.9 284.6,46.1 284.7,45.4 284.7,44.6" class="ct"/>
<path d="M84.7,70.7 84.7,71.5 84.8,72.5 84.8,73.5 84.9,74.5 84.9,75.5 85.0,76.5 85.0,77.5 85.1,78.5 85.1,79.5 85.2,80.5 85.2,81.6 85.3,82.6 85.3,83.6 85.4,84.6 85.4,85.6 85.5,86.6 85.5,87.6 85.6,88.6 85.6,89.6 85.7,90.6 85.8,91.6 85.8,92.6 85.9,93.6 85.9,94.6 86.0,95.6 86.1,96.6 86.1,97.6 86.2,98.6 86.2,99.4 86.3,100.2 86.3,100.9 86.4,101.7 86.4,102.4 86.5,103.2 86.5,103.9 86.6,104.7 86.6,105.4 86.7,106.2 86.7,106.9 86.8,107.7 86.8,108.4 86.9,109.2 86.9,110.0 87.0,110.7 87.0,111.5 87.1,112.2 87.1,113.0 87.2,113.7 87.2,114.5 87.3,115.2 87.4,116.0 87.4,116.7 87.5,117.5 87.5,118.3 87.6,119.0 87.7,119.8 87.7,120.5 87.8,121.3 87.8,122.0 87.9,122.8 88.0,123.5 88.0,124.3 88.1,125.0 88.2,125.8 88.2,126.5 88.3,127.3 88.4,128.1 88.4,128.8 88.5,129.6 88.6,130.3 88.6,131.1 88.7,131.8 88.8,132.6 88.9,133.3 88.9,134.1 89.0,134.8 89.1,135.6 89.2,136.4 89.3,137.1 89.4,137.9 89.5,138.6 89.7,139.4 89.8,140.1 89.9,140.9 90.0,141.6 90.1,142.4 90.3,143.1 90.4,143.9 90.5,144.6 90.7,145.4 90.8,146.2 90.9,146.9 91.1,147.7 91.2,148.4 91.4,149.2 91.5,149.9 91.6,150.7 91.8,151.4 91.9,152.2 92.1,152.9 92.3,153.7 92.4,154.5 92.6,155.2 92.7,156.0 92.9,156.7 93.1,157.5 93.2,158.2 93.4,159.0 93.6,159.7 93.8,160.5 94.1,161.2 94.3,162.0 94.6,162.7 94.9,163.5 95.1,164.3 95.4,165.0 95.7,165.8 95.9,166.5 96.2,167.3 96.5,168.0 96.8,168.8 97.1,169.5 97.4,170.3 97.7,171.0 98.1,171.8 98.5,172.5 98.9,173.3 99.3,174.1 99.7,174.8 100.1,175.6 100.6,176.3 101.0,177.1 101.3,177.6 101.6,178.1 101.9,178.6 102.2,179.1 102.6,179.6 103.0,180.1 103.4,180.6 103.8,181.1 104.2,181.6 104.6,182.1 105.0,182.6 105.4,183.1 105.8,183.6 106.3,184.1 106.7,184.6 107.2,185.1 107.8,185.6 108.3,186.1 108.9,186.6 109.4,187.1 110.0,187.6 110.6,188.1 111.1,188.6 111.8,189.1 112.6,189.6 113.3,190.1 114.0,190.6 114.8,191.2 115.5,191.7 116.5,192.2 117.4,192.7 118.3,193.2 119.3,193.7 120.0,194.0 121.0,194.4 121.6,194.7 122.2,194.9 122.8,195.2 123.4,195.4 124.1,195.7 124.8,195.9 125.6,196.2 126.4,196.4 127.2,196.7 128.0,196.9 128.8,197.2 129.8,197.4 130.9,197.7 132.0,197.9 133.1,198.2 134.5,198.4 136.0,198.7 137.5,198.9 139.7,199.2 142.0,199.4 145.5,199.7 146.4,199.8 150.8,199.9 155.2,199.9 159.6,199.8 161.2,199.7 164.1,199.5 164.9,199.4 167.3,199.2 168.5,199.1 169.4,198.9 171.2,198.7 172.9,198.4 174.3,198.2 175.7,197.9 177.1,197.7 178.3,197.4 179.5,197.2 180.6,196.9 181.7,196.7 182.8,196.4 183.8,196.2 184.8,195.9 185.8,195.7 186.8,195.4 187.7,195.2 188.5,194.9 189.4,194.7 190.3,194.4 191.1,194.2 191.9,193.9 192.7,193.7 193.5,193.4 194.3,193.2 194.9,193.0 195.7,192.7 196.4,192.4 197.1,192.2 197.8,191.9 198.5,191.7 199.1,191.4 199.8,191.2 200.4,190.9 201.0,190.6 201.6,190.4 202.1,190.1 202.7,189.9 203.3,189.6 203.9,189.4 204.9,188.9 205.8,188.4 206.8,187.9 207.8,187.4 208.7,186.9 209.5,186.4 210.4,185.9 211.3,185.4 212.1,184.9 213.0,184.4 213.8,183.9 214.6,183.4 215.4,182.9 216.2,182.4 216.9,181.9 217.8,181.3 218.5,180.8 219.3,180.3 220.0,179.8 220.7,179.3 221.4,178.9 222.1,178.3 222.8,177.8 223.4,177.3 224.1,176.8 224.8,176.3 225.4,175.8 226.0,175.3 226.7,174.8 227.3,174.3 227.9,173.8 228.5,173.3 229.1,172.8 229.7,172.3 230.2,171.9 230.8,171.3 231.4,170.8 231.9,170.3 232.5,169.8 233.1,169.3 233.6,168.8 234.2,168.3 234.6,167.9 235.2,167.3 235.7,166.8 236.2,166.3 236.7,165.8 237.2,165.3 237.7,164.8 238.2,164.3 238.6,163.8 239.1,163.2 239.5,162.7 239.9,162.2 240.4,161.7 240.8,161.2 241.2,160.7 241.6,160.2 242.0,159.7 242.4,159.2 242.8,158.7 243.2,158.2 243.6,157.7 243.9,157.2 244.3,156.7 244.6,156.2 245.0,155.7 245.3,155.2 245.7,154.7 246.0,154.2 246.4,153.7 246.7,153.2 247.0,152.7 247.4,152.2 247.7,151.7 248.0,151.2 248.3,150.7 248.6,150.2 248.9,149.7 249.2,149.2 249.7,148.4 250.1,147.7 250.6,146.9 251.0,146.2 251.4,145.4 251.8,144.6 252.2,143.9 252.5,143.4 252.9,142.6 253.3,141.9 253.6,141.1 254.0,140.4 254.4,139.6 254.7,138.9 255.1,138.1 255.4,137.4 255.8,136.6 256.1,135.8 256.5,135.1 256.8,134.3 257.1,133.6 257.4,132.8 257.7,132.1 258.0,131.3 258.3,130.6 258.6,129.8 258.9,129.1 259.2,128.3 259.5,127.6 259.8,126.8 260.1,126.0 260.3,125.3 260.6,124.5 260.9,123.8 261.2,123.0 261.4,122.3 261.7,121.5 261.9,120.8 262.1,120.0 262.4,119.3 262.6,118.5 262.9,117.8 263.1,117.0 263.3,116.2 263.6,115.5 263.8,114.7 264.0,114.0 264.3,113.2 264.5,112.5 264.7,111.7 264.9,111.0 265.1,110.2 265.4,109.5 265.6,108.7 265.8,107.9 266.0,107.2 266.1,106.4 266.3,105.7 266.5,104.9 266.7,104.2 266.9,103.4 267.1,102.7 267.3,101.9 267.5,101.2 267.7,100.4 267.8,99.7 268.0,98.9 268.2,98.1 268.4,97.4 268.5,96.6 268.7,95.9 268.9,95.1 269.1,94.4 269.2,93.6 269.4,92.9 269.6,92.1 269.7,91.4 269.9,90.6 270.1,89.8 270.2,89.1 270.4,88.3 270.5,87.6 270.7,86.8 270.8,86.1 270.9,85.3 271.1,84.6 271.2,83.8 271.4,83.1 271.5,82.3 271.7,81.6 271.8,80.8 271.9,80.0 272.1,79.3 272.2,78.5 272.3,77.8 272.5,77.0 272.6,76.3 272.7,75.5 272.9,74.8 273.0,74.0 273.1,73.3 273.3,72.5 273.4,71.7 273.5,71.0 273.6,70.2 273.8,69.5 273.9,68.7 274.0,68.0 274.1,67.2 274.3,66.5 274.4,65.7 274.5,65.0 274.6,64.2 274.7,63.5 274.8,62.7 274.9,61.9 275.0,61.2 275.1,60.4 275.2,59.7 275.3,58.9 275.5,58.2 275.6,57.4 275.7,56.7 275.8,55.9 275.9,55.2 276.0,54.4 276.1,53.6 276.2,52.9 276.3,52.1 276.4,51.4 276.5,50.6 276.6,49.9 276.7,49.1 276.8,48.4 276.8,47.6 276.9,46.9 277.0,46.1 277.1,45.4 277.2,44.6" class="ct"/>
<path d="M87.0,44.6 87.0,45.6 87.1,46.6 87.1,47.6 87.2,48.6 87.2,49.6 87.3,50.6 87.3,51.6 87.4,52.6 87.4,53.6 87.5,54.7 87.5,55.7 87.6,56.7 87.6,57.7 87.7,58.7 87.7,59.7 87.8,60.7 87.8,61.7 87.9,62.7 87.9,63.7 88.0,64.7 88.1,65.7 88.1,66.7 88.2,67.7 88.2,68.7 88.3,69.7 88.3,70.7 88.4,71.7 88.5,72.8 88.5,73.8 88.6,74.8 88.6,75.8 88.7,76.5 88.7,77.3 88.8,78.0 88.8,78.8 88.9,79.5 88.9,80.3 89.0,81.0 89.0,81.8 89.1,82.6 89.1,83.3 89.2,84.1 89.3,84.8 89.3,85.6 89.4,86.3 89.5,87.1 89.6,87.8 89.6,88.6 89.7,89.3 89.8,90.1 89.9,90.9 89.9,91.6 90.0,92.4 90.1,93.1 90.2,93.9 90.3,94.6 90.3,95.4 90.4,96.1 90.5,96.9 90.6,97.6 90.7,98.4 90.8,99.1 90.8,99.9 90.9,100.7 91.0,101.4 91.1,102.2 91.2,102.9 91.3,103.7 91.4,104.4 91.5,105.2 91.6,105.9 91.7,106.7 91.8,107.4 91.9,108.2 92.0,109.0 92.1,109.7 92.1,110.5 92.2,111.2 92.4,112.0 92.5,112.7 92.6,113.5 92.7,114.2 92.8,115.0 92.9,115.7 93.0,116.5 93.1,117.2 93.2,118.0 93.3,118.8 93.4,119.5 93.5,120.3 93.7,121.0 93.9,121.8 94.0,122.5 94.2,123.3 94.3,124.0 94.5,124.8 94.7,125.5 94.8,126.3 95.0,127.1 95.2,127.8 95.4,128.6 95.5,129.3 95.7,130.1 95.9,130.8 96.1,131.6 96.3,132.3 96.5,133.1 96.7,133.8 96.8,134.6 97.0,135.3 97.2,136.1 97.4,136.9 97.6,137.6 97.9,138.4 98.1,139.1 98.4,139.9 98.6,140.6 98.9,141.4 99.2,142.1 99.4,142.9 99.7,143.6 100.0,144.4 100.3,145.1 100.6,145.9 100.9,146.7 101.2,147.4 101.5,148.2 101.8,148.9 102.1,149.7 102.4,150.4 102.8,151.2 103.2,151.9 103.6,152.7 104.0,153.4 104.4,154.2 104.8,155.0 105.3,155.7 105.7,156.5 106.1,157.2 106.6,158.0 106.9,158.5 107.2,159.0 107.6,159.5 108.0,160.0 108.3,160.5 108.7,161.0 109.1,161.5 109.5,162.0 109.9,162.5 110.3,163.0 110.7,163.5 111.1,164.0 111.5,164.5 112.0,165.0 112.5,165.5 113.0,166.0 113.5,166.5 114.0,167.0 114.5,167.5 115.0,168.0 115.6,168.5 116.2,169.0 116.8,169.5 117.5,170.0 118.1,170.5 118.8,171.0 119.5,171.5 120.0,171.9 120.6,172.3 121.5,172.8 122.3,173.3 123.2,173.8 124.0,174.3 125.1,174.8 125.6,175.1 126.2,175.3 126.7,175.6 127.3,175.8 127.8,176.1 128.4,176.3 129.0,176.6 129.8,176.8 130.5,177.1 131.2,177.3 132.0,177.6 132.7,177.8 133.6,178.1 134.6,178.3 135.7,178.6 136.7,178.8 137.6,179.0 139.5,179.3 141.0,179.6 142.0,179.7 142.9,179.8 145.4,180.1 146.4,180.2 149.2,180.3 150.8,180.4 155.2,180.4 158.9,180.3 162.8,180.1 164.1,180.0 165.2,179.8 167.1,179.6 168.5,179.4 170.1,179.1 171.4,178.8 172.7,178.6 173.7,178.3 174.8,178.1 175.8,177.8 176.8,177.6 177.7,177.3 178.6,177.1 179.5,176.8 180.3,176.6 181.2,176.3 182.0,176.1 182.7,175.8 183.5,175.6 184.2,175.3 184.9,175.1 185.6,174.8 186.3,174.6 187.0,174.3 187.6,174.1 188.3,173.8 188.9,173.6 189.6,173.3 190.2,173.1 190.8,172.8 191.4,172.5 192.0,172.3 192.5,172.0 193.1,171.8 193.7,171.5 194.2,171.3 194.8,171.0 195.8,170.5 196.8,170.0 197.8,169.5 198.8,169.0 199.3,168.7 200.1,168.3 201.0,167.8 201.8,167.3 202.7,166.8 203.5,166.3 204.3,165.8 205.0,165.3 205.7,164.8 206.4,164.3 207.1,163.8 207.8,163.2 208.4,162.7 209.1,162.2 209.7,161.7 210.3,161.2 210.9,160.7 211.5,160.2 212.2,159.7 212.8,159.2 213.4,158.7 214.0,158.2 214.6,157.7 215.1,157.2 215.7,156.7 216.3,156.2 216.9,155.7 217.4,155.2 218.0,154.7 218.5,154.2 219.0,153.7 219.5,153.2 220.1,152.7 220.6,152.2 221.1,151.7 221.6,151.2 222.1,150.7 222.6,150.2 223.1,149.7 223.5,149.2 224.0,148.7 224.5,148.2 224.9,147.7 225.4,147.2 225.9,146.7 226.3,146.2 226.8,145.7 227.2,145.1 227.6,144.6 228.1,144.1 228.5,143.6 228.9,143.1 229.3,142.6 229.8,142.1 230.2,141.6 230.6,141.1 231.0,140.6 231.4,140.1 231.8,139.6 232.2,139.1 232.6,138.6 233.0,138.1 233.4,137.6 233.8,137.1 234.2,136.6 234.6,136.1 235.0,135.6 235.3,135.1 235.7,134.6 236.0,134.1 236.4,133.6 236.8,133.1 237.1,132.6 237.5,132.1 237.8,131.6 238.2,131.1 238.5,130.6 238.8,130.1 239.2,129.6 239.5,129.1 239.8,128.6 240.1,128.1 240.4,127.6 240.7,127.1 241.1,126.3 241.6,125.5 242.0,124.8 242.4,124.0 242.8,123.3 243.3,122.5 243.7,121.8 244.1,121.0 244.4,120.3 244.8,119.5 245.2,118.8 245.6,118.0 245.9,117.2 246.3,116.5 246.7,115.7 247.0,115.0 247.4,114.2 247.7,113.5 248.1,112.7 248.4,112.0 248.7,111.2 249.1,110.5 249.4,109.7 249.7,109.0 250.0,108.2 250.3,107.4 250.6,106.7 251.0,105.9 251.3,105.2 251.6,104.4 251.9,103.7 252.2,102.9 252.4,102.2 252.7,101.4 253.0,100.7 253.3,99.9 253.5,99.1 253.8,98.4 254.1,97.6 254.3,96.9 254.6,96.1 254.8,95.4 255.1,94.6 255.3,93.9 255.6,93.1 255.8,92.4 256.1,91.6 256.3,90.9 256.6,90.1 256.8,89.3 257.0,88.6 257.3,87.8 257.5,87.1 257.7,86.3 257.9,85.6 258.1,84.8 258.3,84.1 258.6,83.3 258.8,82.6 259.0,81.8 259.2,81.0 259.4,80.3 259.6,79.5 259.8,78.8 260.0,78.0 260.2,77.3 260.4,76.5 260.6,75.8 260.8,75.0 261.0,74.3 261.2,73.5 261.4,72.8 261.5,72.0 261.7,71.2 261.9,70.5 262.1,69.7 262.2,69.0 262.4,68.2 262.6,67.5 262.8,66.7 262.9,66.0 263.1,65.2 263.3,64.5 263.4,63.7 263.6,63.0 263.8,62.2 263.9,61.4 264.1,60.7 264.3,59.9 264.4,59.2 264.6,58.4 264.7,57.7 264.9,56.9 265.1,56.2 265.2,55.4 265.4,54.7 265.5,53.9 265.7,53.1 265.8,52.4 265.9,51.6 266.1,50.9 266.2,50.1 266.4,49.4 266.5,48.6 266.6,47.9 266.8,47.1 266.9,46.4 267.0,45.6 267.2,44.9 267.2,44.6" class="ct"/>
<path d="M90.9,44.6 91.0,45.4 91.0,46.1 91.1,46.9 91.2,47.6 91.2,48.4 91.3,49.1 91.4,49.9 91.4,50.6 91.5,51.4 91.6,52.1 91.6,52.9 91.7,53.6 91.7,54.4 91.8,55.2 91.9,55.9 91.9,56.7 92.0,57.4 92.1,58.2 92.2,58.9 92.2,59.7 92.3,60.4 92.4,61.2 92.4,61.9 92.5,62.7 92.6,63.5 92.6,64.2 92.7,65.0 92.8,65.7 92.9,66.5 92.9,67.2 93.0,68.0 93.1,68.7 93.2,69.5 93.2,70.2 93.3,71.0 93.4,71.7 93.5,72.5 93.6,73.3 93.7,74.0 93.8,74.8 93.9,75.5 94.0,76.3 94.1,77.0 94.2,77.8 94.3,78.5 94.5,79.3 94.6,80.0 94.7,80.8 94.8,81.6 94.9,82.3 95.1,83.1 95.2,83.8 95.3,84.6 95.4,85.3 95.5,86.1 95.7,86.8 95.8,87.6 95.9,88.3 96.1,89.1 96.2,89.8 96.3,90.6 96.4,91.4 96.6,92.1 96.7,92.9 96.8,93.6 97.0,94.4 97.1,95.1 97.3,95.9 97.4,96.6 97.5,97.4 97.7,98.1 97.8,98.9 98.0,99.7 98.2,100.4 98.4,101.2 98.5,101.9 98.7,102.7 98.9,103.4 99.1,104.2 99.3,104.9 99.5,105.7 99.7,106.4 99.9,107.2 100.1,107.9 100.3,108.7 100.5,109.5 100.7,110.2 100.9,111.0 101.2,111.7 101.4,112.5 101.6,113.2 101.8,114.0 102.0,114.7 102.3,115.5 102.5,116.2 102.8,117.0 103.1,117.8 103.3,118.5 103.6,119.3 103.9,120.0 104.2,120.8 104.5,121.5 104.8,122.3 105.1,123.0 105.4,123.8 105.7,124.5 106.0,125.3 106.3,126.0 106.6,126.8 107.0,127.6 107.4,128.3 107.8,129.1 108.2,129.8 108.6,130.6 109.0,131.3 109.4,132.1 109.8,132.8 110.3,133.6 110.7,134.3 111.1,135.1 111.5,135.6 111.8,136.1 112.2,136.6 112.5,137.1 112.9,137.6 113.3,138.1 113.6,138.6 114.0,139.1 114.4,139.6 114.7,140.1 115.1,140.6 115.5,141.1 116.0,141.6 116.4,142.1 116.9,142.6 117.4,143.1 117.8,143.6 118.3,144.1 118.8,144.6 119.3,145.1 119.8,145.7 120.4,146.2 121.0,146.7 121.6,147.2 122.2,147.7 122.9,148.2 123.5,148.7 124.1,149.2 124.9,149.7 125.7,150.2 126.5,150.7 127.3,151.2 128.1,151.7 128.8,152.1 129.6,152.4 130.6,152.9 131.7,153.4 132.3,153.7 132.8,153.9 133.5,154.2 134.2,154.5 135.0,154.7 135.8,155.0 136.6,155.2 137.3,155.5 138.4,155.7 139.5,156.0 140.7,156.2 141.8,156.5 143.5,156.7 145.4,157.0 146.4,157.1 147.9,157.2 150.8,157.4 153.4,157.5 155.2,157.5 159.6,157.4 161.2,157.2 164.0,157.0 165.5,156.7 166.9,156.5 168.4,156.2 169.4,156.0 170.4,155.7 171.4,155.5 172.3,155.2 173.2,155.0 174.0,154.7 174.8,154.5 175.6,154.2 176.4,153.9 177.1,153.7 177.8,153.4 178.5,153.2 179.1,152.9 179.8,152.7 180.4,152.4 181.1,152.2 181.7,151.9 182.3,151.7 182.8,151.4 183.4,151.2 183.9,150.9 184.5,150.7 185.0,150.4 185.6,150.2 186.6,149.7 187.6,149.2 188.6,148.7 189.6,148.2 190.5,147.7 191.4,147.2 192.3,146.7 193.1,146.2 194.0,145.7 194.8,145.1 195.6,144.6 196.3,144.1 197.1,143.6 197.8,143.1 198.6,142.6 199.3,142.1 199.9,141.6 200.6,141.1 201.2,140.6 201.9,140.1 202.5,139.6 203.1,139.1 203.7,138.7 204.3,138.1 204.8,137.6 205.4,137.1 205.9,136.6 206.4,136.1 206.9,135.6 207.5,135.1 208.0,134.6 208.5,134.1 208.9,133.6 209.4,133.1 209.9,132.6 210.3,132.1 210.8,131.6 211.3,131.1 211.7,130.6 212.2,130.1 212.6,129.6 213.1,129.1 213.6,128.6 214.0,128.1 214.4,127.6 214.9,127.1 215.3,126.5 215.8,126.0 216.2,125.5 216.6,125.0 217.1,124.5 217.5,124.0 217.9,123.5 218.3,123.0 218.7,122.5 219.1,122.0 219.5,121.5 219.8,121.0 220.2,120.5 220.6,120.0 221.0,119.5 221.4,119.1 221.8,118.5 222.1,118.0 222.5,117.5 222.9,117.0 223.2,116.5 223.6,116.0 223.9,115.5 224.3,115.0 224.6,114.5 225.0,114.0 225.3,113.5 225.7,113.0 226.0,112.5 226.4,112.0 226.7,111.5 227.0,111.0 227.3,110.5 227.7,110.0 228.0,109.5 228.3,109.0 228.6,108.4 229.0,107.9 229.3,107.4 229.6,106.9 229.9,106.4 230.2,105.9 230.5,105.4 230.8,104.9 231.2,104.4 231.5,103.9 231.8,103.4 232.1,102.9 232.4,102.4 232.7,101.9 233.0,101.4 233.4,100.7 233.9,99.9 234.3,99.1 234.7,98.4 235.1,97.6 235.5,96.9 236.0,96.1 236.4,95.4 236.8,94.6 237.2,93.9 237.6,93.1 237.9,92.4 238.3,91.6 238.7,90.9 239.1,90.1 239.4,89.3 239.8,88.6 240.1,87.8 240.5,87.1 240.8,86.3 241.1,85.6 241.4,84.8 241.8,84.1 242.1,83.3 242.4,82.6 242.7,81.8 243.1,81.0 243.4,80.3 243.7,79.5 244.0,78.8 244.3,78.0 244.5,77.3 244.8,76.5 245.1,75.8 245.4,75.0 245.7,74.3 245.9,73.5 246.2,72.8 246.5,72.0 246.8,71.2 247.0,70.5 247.3,69.7 247.6,69.0 247.8,68.3 248.0,67.7 248.3,67.0 248.5,66.2 248.7,65.5 249.0,64.7 249.2,64.0 249.5,63.2 249.7,62.4 249.9,61.7 250.2,60.9 250.4,60.2 250.6,59.4 250.9,58.7 251.1,57.9 251.3,57.2 251.6,56.4 251.8,55.7 252.0,54.9 252.2,54.2 252.4,53.4 252.6,52.6 252.9,51.9 253.1,51.1 253.3,50.4 253.5,49.6 253.7,48.9 253.9,48.1 254.1,47.4 254.3,46.6 254.4,45.9 254.6,45.1 254.8,44.6" class="ct"/>
<path d="M96.2,44.6 96.2,45.4 96.3,46.1 96.4,46.9 96.5,47.6 96.6,48.4 96.7,49.1 96.8,49.9 97.0,50.6 97.1,51.4 97.2,52.1 97.3,52.9 97.4,53.6 97.5,54.4 97.6,55.2 97.7,55.9 97.8,56.7 97.9,57.4 98.0,58.2 98.2,58.9 98.3,59.7 98.5,60.4 98.6,61.2 98.7,61.9 98.9,62.7 99.0,63.5 99.2,64.2 99.3,65.0 99.5,65.7 99.6,66.5 99.8,67.2 99.9,68.0 100.1,68.7 100.2,69.5 100.4,70.2 100.6,71.0 100.7,71.7 100.9,72.5 101.0,73.3 101.2,74.0 101.4,74.8 101.5,75.5 101.7,76.3 101.9,77.0 102.0,77.8 102.2,78.5 102.3,79.2 102.6,80.0 102.8,80.8 103.0,81.6 103.2,82.3 103.4,83.1 103.6,83.8 103.9,84.6 104.1,85.3 104.3,86.1 104.5,86.8 104.8,87.6 105.0,88.3 105.2,89.1 105.5,89.8 105.7,90.6 105.9,91.4 106.2,92.1 106.4,92.9 106.6,93.6 106.9,94.4 107.2,95.1 107.5,95.9 107.8,96.6 108.1,97.4 108.4,98.1 108.8,98.9 109.1,99.7 109.4,100.4 109.7,101.2 110.0,101.9 110.4,102.7 110.7,103.4 111.0,104.2 111.4,104.9 111.8,105.7 112.2,106.4 112.6,107.2 113.1,107.9 113.5,108.7 113.9,109.5 114.3,110.2 114.8,111.0 115.2,111.7 115.6,112.3 116.0,113.0 116.4,113.5 116.8,114.0 117.1,114.5 117.5,115.0 117.9,115.5 118.3,116.0 118.6,116.5 119.0,117.0 119.4,117.5 119.8,118.0 120.2,118.5 120.7,119.0 121.2,119.5 121.6,120.0 122.1,120.5 122.6,121.0 123.1,121.5 123.6,122.0 124.1,122.5 124.6,123.0 125.3,123.5 125.9,124.0 126.5,124.5 127.2,125.0 127.8,125.5 128.5,126.0 129.2,126.5 130.1,127.1 130.9,127.6 131.8,128.1 132.6,128.6 133.2,128.9 134.2,129.3 134.8,129.6 135.4,129.8 136.0,130.1 136.6,130.3 137.2,130.6 137.9,130.8 138.8,131.1 139.7,131.3 140.6,131.6 141.5,131.8 142.7,132.1 144.1,132.3 145.6,132.6 146.4,132.7 147.5,132.8 150.1,133.1 155.2,133.3 159.6,133.1 162.2,132.8 164.1,132.6 165.5,132.3 166.6,132.1 167.8,131.8 168.8,131.6 169.6,131.3 170.4,131.1 171.2,130.8 172.0,130.6 172.8,130.3 173.4,130.1 174.0,129.8 174.7,129.6 175.3,129.3 175.9,129.1 176.5,128.8 177.1,128.6 178.2,128.1 179.2,127.6 180.3,127.1 181.3,126.5 182.2,126.0 183.1,125.5 184.0,125.0 184.9,124.5 185.8,124.0 186.6,123.5 187.4,123.0 188.2,122.5 188.9,122.0 189.7,121.5 190.5,121.0 191.2,120.5 191.8,120.0 192.5,119.5 193.2,119.0 193.9,118.5 194.6,118.0 195.2,117.5 195.8,117.0 196.4,116.5 197.0,116.0 197.6,115.5 198.2,115.0 198.7,114.5 199.3,114.0 199.8,113.5 200.4,113.0 200.9,112.5 201.4,112.0 201.9,111.5 202.4,111.0 202.9,110.5 203.4,110.0 203.9,109.5 204.3,109.0 204.7,108.4 205.1,107.9 205.6,107.4 206.0,106.9 206.4,106.4 206.8,105.9 207.2,105.4 207.6,104.9 208.0,104.4 208.4,103.9 208.8,103.4 209.2,102.9 209.5,102.4 209.9,101.9 210.3,101.4 210.6,100.9 211.0,100.4 211.4,99.9 211.7,99.4 212.1,98.9 212.5,98.4 212.8,97.9 213.2,97.4 213.5,96.9 213.9,96.4 214.2,95.9 214.6,95.4 215.0,94.9 215.3,94.4 215.6,93.9 216.0,93.4 216.3,92.9 216.7,92.4 217.0,91.9 217.3,91.4 217.7,90.9 218.0,90.4 218.3,89.8 218.6,89.3 218.9,88.8 219.2,88.3 219.5,87.8 219.9,87.3 220.2,86.8 220.5,86.3 220.8,85.8 221.1,85.3 221.4,84.8 221.8,84.1 222.3,83.3 222.7,82.6 223.1,81.8 223.5,81.0 224.0,80.3 224.4,79.5 224.8,78.8 225.2,78.0 225.6,77.3 226.0,76.5 226.4,75.8 226.8,75.0 227.2,74.3 227.6,73.5 228.0,72.8 228.4,72.0 228.8,71.2 229.1,70.5 229.5,69.7 229.9,69.0 230.2,68.4 230.5,67.7 230.9,67.0 231.2,66.2 231.6,65.5 232.0,64.7 232.3,64.0 232.7,63.2 233.0,62.4 233.4,61.7 233.7,60.9 234.1,60.2 234.4,59.4 234.8,58.7 235.1,57.9 235.4,57.2 235.7,56.4 236.1,55.7 236.4,54.9 236.7,54.2 237.0,53.4 237.3,52.6 237.6,51.9 238.0,51.1 238.3,50.4 238.6,49.6 238.9,48.9 239.2,48.1 239.4,47.4 239.7,46.6 240.0,45.9 240.2,45.1 240.4,44.6" class="ct"/>
<path d="M103.7,44.6 103.9,45.4 104.1,46.1 104.3,46.9 104.4,47.6 104.6,48.4 104.8,49.1 105.0,49.9 105.2,50.6 105.3,51.4 105.5,52.1 105.7,52.9 105.9,53.6 106.1,54.4 106.3,55.2 106.5,55.9 106.6,56.7 106.9,57.4 107.1,58.2 107.3,58.9 107.6,59.7 107.8,60.4 108.1,61.2 108.3,61.9 108.6,62.7 108.8,63.5 109.1,64.2 109.3,65.0 109.6,65.7 109.8,66.5 110.1,67.2 110.3,68.0 110.6,68.7 110.9,69.5 111.1,70.2 111.4,71.0 111.8,71.7 112.1,72.5 112.4,73.3 112.8,74.0 113.1,74.8 113.4,75.5 113.8,76.3 114.1,77.0 114.5,77.8 114.8,78.5 115.1,79.3 115.5,80.0 115.9,80.8 116.4,81.6 116.8,82.3 117.2,83.1 117.7,83.8 118.0,84.3 118.3,84.8 118.6,85.3 118.9,85.8 119.2,86.3 119.5,86.8 119.8,87.3 120.1,87.8 120.5,88.3 120.9,88.8 121.3,89.3 121.7,89.8 122.1,90.4 122.4,90.9 122.8,91.4 123.2,91.9 123.6,92.4 124.0,92.9 124.4,93.3 124.9,93.9 125.4,94.4 125.9,94.9 126.5,95.4 127.0,95.9 127.5,96.4 128.0,96.9 128.5,97.4 129.1,97.9 129.8,98.4 130.5,98.9 131.2,99.4 131.9,99.9 132.5,100.4 133.2,100.9 133.7,101.2 134.7,101.7 135.7,102.2 136.7,102.7 137.6,103.2 138.4,103.4 139.1,103.7 139.8,103.9 140.5,104.2 141.2,104.4 142.0,104.7 143.1,104.9 144.3,105.2 145.4,105.4 146.4,105.6 148.8,105.9 150.8,106.2 155.2,106.3 159.4,106.2 161.5,105.9 163.4,105.7 164.7,105.4 165.7,105.2 166.7,104.9 167.6,104.7 168.5,104.5 169.2,104.2 169.9,103.9 170.5,103.7 171.2,103.4 171.8,103.2 172.4,102.9 173.0,102.7 174.1,102.2 175.1,101.7 176.1,101.2 177.1,100.7 178.0,100.2 178.8,99.7 179.7,99.1 180.5,98.6 181.4,98.1 182.1,97.6 182.9,97.1 183.6,96.6 184.3,96.1 185.0,95.6 185.7,95.1 186.4,94.6 187.0,94.1 187.7,93.6 188.3,93.1 188.9,92.6 189.6,92.1 190.2,91.6 190.8,91.1 191.3,90.6 191.9,90.1 192.5,89.6 193.0,89.1 193.6,88.6 194.1,88.1 194.7,87.6 195.2,87.1 195.7,86.6 196.1,86.1 196.6,85.6 197.1,85.1 197.6,84.6 198.1,84.1 198.5,83.6 199.0,83.1 199.5,82.6 199.9,82.1 200.3,81.6 200.7,81.0 201.1,80.5 201.6,80.0 202.0,79.5 202.4,79.0 202.8,78.5 203.2,78.0 203.6,77.5 204.0,77.0 204.3,76.5 204.7,76.0 205.0,75.5 205.3,75.0 205.7,74.5 206.0,74.0 206.3,73.5 206.7,73.0 207.0,72.5 207.3,72.0 207.7,71.5 208.0,71.0 208.3,70.5 208.6,70.0 208.9,69.5 209.2,69.0 209.5,68.5 209.8,68.0 210.2,67.5 210.5,67.0 210.8,66.5 211.0,66.0 211.5,65.2 211.9,64.5 212.4,63.7 212.8,63.0 213.2,62.2 213.7,61.4 214.1,60.7 214.5,59.9 215.0,59.2 215.4,58.4 215.8,57.7 216.2,56.9 216.6,56.2 216.9,55.6 217.3,54.9 217.7,54.2 218.1,53.4 218.5,52.6 218.9,51.9 219.2,51.1 219.6,50.4 220.0,49.6 220.4,48.9 220.7,48.1 221.1,47.4 221.5,46.6 221.8,45.9 222.2,45.1 222.4,44.6" class="ct"/>
<path d="M115.3,44.6 115.6,45.4 115.9,46.1 116.3,46.9 116.6,47.6 117.0,48.4 117.4,49.1 117.7,49.9 118.1,50.6 118.5,51.4 118.8,52.1 119.2,52.9 119.6,53.6 120.0,54.4 120.3,54.9 120.6,55.4 120.9,55.9 121.2,56.4 121.5,56.9 121.8,57.4 122.2,57.9 122.5,58.4 122.8,58.9 123.1,59.4 123.5,59.9 123.8,60.4 124.1,60.9 124.5,61.4 124.9,61.9 125.3,62.4 125.7,63.0 126.1,63.5 126.5,64.0 127.0,64.5 127.4,65.0 127.8,65.5 128.2,66.0 128.7,66.5 129.2,67.0 129.7,67.5 130.3,68.0 130.9,68.5 131.4,69.0 132.0,69.5 132.6,70.0 133.1,70.5 133.9,71.0 134.7,71.5 135.5,72.0 136.3,72.5 137.1,73.0 138.1,73.5 138.7,73.8 139.3,74.0 139.9,74.3 140.5,74.5 141.1,74.8 141.7,75.0 142.4,75.3 143.4,75.5 144.3,75.8 145.3,76.0 146.2,76.3 147.8,76.5 149.6,76.8 150.8,77.0 152.3,77.0 155.2,77.2 159.3,77.0 161.2,76.8 162.9,76.5 164.1,76.3 165.1,76.0 165.9,75.8 166.7,75.5 167.6,75.3 168.4,75.0 168.9,74.8 170.0,74.3 171.1,73.8 172.2,73.3 172.9,72.9 173.6,72.5 174.5,72.0 175.3,71.5 176.2,71.0 177.0,70.5 177.8,70.0 178.5,69.5 179.2,69.0 179.9,68.5 180.6,68.0 181.3,67.5 181.9,67.0 182.5,66.5 183.1,66.0 183.7,65.5 184.3,65.0 184.9,64.5 185.5,64.0 186.1,63.5 186.7,63.0 187.2,62.4 187.7,61.9 188.2,61.4 188.8,60.9 189.3,60.4 189.8,59.9 190.3,59.4 190.8,58.9 191.3,58.4 191.7,57.9 192.2,57.4 192.7,56.9 193.1,56.4 193.6,55.9 194.0,55.4 194.5,54.9 194.9,54.5 195.4,53.9 195.8,53.4 196.2,52.9 196.6,52.4 197.0,51.9 197.4,51.4 197.8,50.9 198.2,50.4 198.6,49.9 198.9,49.4 199.3,48.9 199.7,48.4 200.0,47.9 200.4,47.4 200.7,46.9 201.1,46.4 201.4,45.9 201.8,45.4 202.1,44.9 202.3,44.6" class="ct"/>
<line x1="150.24" y1="245.70" x2="150.24" y2="44.60" stroke="#222" stroke-opacity="0.72" stroke-width="1.8" stroke-dasharray="9.4 5.7"/>
<line x1="80.5" y1="44.60" x2="80.5" y2="246.20" class="ax"/>
<line x1="80" y1="246.00" x2="301.20" y2="246.00" class="ax"/>
<line x1="77.6" y1="245.70" x2="80.5" y2="245.70" class="ax"/>
<text x="70.60" y="252.85" text-anchor="end">0</text>
<line x1="77.6" y1="205.48" x2="80.5" y2="205.48" class="ax"/>
<text x="70.60" y="212.63" text-anchor="end">200</text>
<line x1="77.6" y1="165.26" x2="80.5" y2="165.26" class="ax"/>
<text x="70.60" y="172.41" text-anchor="end">400</text>
<line x1="77.6" y1="125.04" x2="80.5" y2="125.04" class="ax"/>
<text x="70.60" y="132.19" text-anchor="end">600</text>
<line x1="77.6" y1="84.82" x2="80.5" y2="84.82" class="ax"/>
<text x="70.60" y="91.97" text-anchor="end">800</text>
<line x1="77.6" y1="44.60" x2="80.5" y2="44.60" class="ax"/>
<text x="70.60" y="51.75" text-anchor="end">1000</text>
<rect x="26.83" y="49.06" width="4.31" height="3.69" fill="#fff"/>
<rect x="32.90" y="49.06" width="4.15" height="3.69" fill="#fff"/>
<line x1="80.30" y1="245.70" x2="80.30" y2="248.70" class="ax"/>
<text x="80.30" y="270.20" text-anchor="middle">0</text>
<line x1="124.38" y1="245.70" x2="124.38" y2="248.70" class="ax"/>
<text x="124.38" y="270.20" text-anchor="middle">0.1</text>
<rect x="127.88" y="267.51" width="4.31" height="3.69" fill="#fff"/>
<rect x="133.96" y="267.51" width="4.15" height="3.69" fill="#fff"/>
<line x1="168.46" y1="245.70" x2="168.46" y2="248.70" class="ax"/>
<text x="168.46" y="270.20" text-anchor="middle">0.2</text>
<line x1="212.54" y1="245.70" x2="212.54" y2="248.70" class="ax"/>
<text x="212.54" y="270.20" text-anchor="middle">0.3</text>
<line x1="256.62" y1="245.70" x2="256.62" y2="248.70" class="ax"/>
<text x="256.62" y="270.20" text-anchor="middle">0.4</text>
<line x1="300.70" y1="245.70" x2="300.70" y2="248.70" class="ax"/>
<text x="300.70" y="270.20" text-anchor="middle">0.5</text>
<text x="150.40" y="298.60">Error rate, ER</text>
<text transform="translate(14.4,146.4) rotate(-90)" text-anchor="middle" style="font-size:20.2px">Trial number</text>
<text x="149.60" y="36.90" text-anchor="middle">ER*</text>
<text transform="translate(0.05,20.9) scale(0.934,1.035)" class="pl">a</text>
<rect x="324.00" y="44.60" width="20.60" height="201.10" fill="none" stroke="#7a7a7a" stroke-width="1"/>
<line x1="344.60" y1="245.70" x2="346.60" y2="245.70" class="ax"/>
<text x="353.20" y="252.85">0</text>
<line x1="344.60" y1="205.48" x2="346.60" y2="205.48" class="ax"/>
<text x="353.20" y="212.63">0.2</text>
<line x1="344.60" y1="165.26" x2="346.60" y2="165.26" class="ax"/>
<text x="353.20" y="172.41">0.4</text>
<line x1="344.60" y1="125.04" x2="346.60" y2="125.04" class="ax"/>
<text x="353.20" y="132.19">0.6</text>
<line x1="344.60" y1="84.82" x2="346.60" y2="84.82" class="ax"/>
<text x="353.20" y="91.97">0.8</text>
<line x1="344.60" y1="44.60" x2="346.60" y2="44.60" class="ax"/>
<text x="353.20" y="51.75">1</text>
<rect x="353.92" y="49.06" width="4.31" height="3.69" fill="#fff"/>
<rect x="360.00" y="49.06" width="4.15" height="3.69" fill="#fff"/>
<line x1="476.40" y1="44.60" x2="476.40" y2="245.70" class="ax"/>
<line x1="476.40" y1="245.70" x2="601.00" y2="245.70" class="ax"/>
<line x1="473.80" y1="245.70" x2="476.40" y2="245.70" class="ax"/>
<text x="467.30" y="252.85" text-anchor="end">0</text>
<line x1="473.80" y1="205.48" x2="476.40" y2="205.48" class="ax"/>
<text x="467.30" y="212.63" text-anchor="end">0.2</text>
<line x1="473.80" y1="165.26" x2="476.40" y2="165.26" class="ax"/>
<text x="467.30" y="172.41" text-anchor="end">0.4</text>
<line x1="473.80" y1="125.04" x2="476.40" y2="125.04" class="ax"/>
<text x="467.30" y="132.19" text-anchor="end">0.6</text>
<line x1="473.80" y1="84.82" x2="476.40" y2="84.82" class="ax"/>
<text x="467.30" y="91.97" text-anchor="end">0.8</text>
<line x1="473.80" y1="44.60" x2="476.40" y2="44.60" class="ax"/>
<text x="467.30" y="51.75" text-anchor="end">1</text>
<rect x="456.90" y="49.06" width="4.31" height="3.69" fill="#fff"/>
<rect x="462.97" y="49.06" width="4.15" height="3.69" fill="#fff"/>
<line x1="476.40" y1="245.70" x2="476.40" y2="248.10" class="ax"/>
<text x="476.40" y="270.20" text-anchor="middle">0</text>
<line x1="538.70" y1="245.70" x2="538.70" y2="248.10" class="ax"/>
<text x="538.70" y="270.20" text-anchor="middle">500</text>
<line x1="601.00" y1="245.70" x2="601.00" y2="248.10" class="ax"/>
<text x="601.00" y="270.20" text-anchor="middle">1000</text>
<rect x="579.48" y="267.51" width="4.31" height="3.69" fill="#fff"/>
<rect x="585.55" y="267.51" width="4.15" height="3.69" fill="#fff"/>
<text x="488.7" y="299" style="font-size:20.2px">Trial number</text>
<text transform="translate(423.3,146.2) rotate(-90)" text-anchor="middle" style="font-size:20.1px">Relative precision, <tspan font-family="Liberation Serif" font-style="italic">β/β</tspan><tspan font-size="14" dy="5.7">max</tspan></text>
<text transform="translate(407.7,20.9) scale(0.99,1.025)" class="pl">b</text>
<path d="M476.40,226.88 477.98,219.66 479.55,213.83 481.13,208.71 482.71,204.07 484.29,199.76 485.86,195.70 487.44,191.84 489.02,188.15 490.59,184.61 492.17,181.18 493.75,177.87 495.33,174.65 496.90,171.52 498.48,168.48 500.06,165.50 501.64,162.60 503.21,159.76 504.79,156.98 506.37,154.26 507.94,151.59 509.52,148.98 511.10,146.41 512.68,143.89 514.25,141.42 515.83,138.99 517.41,136.60 518.98,134.25 520.56,131.94 522.14,129.67 523.72,127.43 525.29,125.23 526.87,123.06 528.45,120.93 530.03,118.82 531.60,116.75 533.18,114.70 534.76,112.69 536.33,110.70 537.91,108.74 539.49,106.80 541.07,104.89 542.64,103.01 544.22,101.15 545.80,99.31 547.37,97.49 548.95,95.70 550.53,93.93 552.11,92.18 553.68,90.45 555.26,88.74 556.84,87.04 558.42,85.37 559.99,83.72 561.57,82.08 563.15,80.46 564.72,78.86 566.30,77.27 567.88,75.70 569.46,74.15 571.03,72.61 572.61,71.09 574.19,69.58 575.76,68.08 577.34,66.60 578.92,65.14 580.50,63.68 582.07,62.24 583.65,60.81 585.23,59.39 586.81,57.99 588.38,56.60 589.96,55.22 591.54,53.85 593.11,52.49 594.69,51.14 596.27,49.80 597.85,48.47 599.42,47.15 601.00,45.85" fill="none" stroke="#c29aad" stroke-width="2.9" stroke-dasharray="11.4 10"/>
<path d="M476.40,226.88 477.98,221.24 479.55,216.55 481.13,212.41 482.71,208.65 484.29,205.15 485.86,201.86 487.44,198.74 489.02,195.75 490.59,192.88 492.17,190.11 493.75,187.42 495.33,184.81 496.90,182.27 498.48,179.79 500.06,177.37 501.64,175.01 503.21,172.69 504.79,170.41 506.37,168.18 507.94,165.99 509.52,163.83 511.10,161.71 512.68,159.62 514.25,157.57 515.83,155.54 517.41,153.54 518.98,151.58 520.56,149.63 522.14,147.72 523.72,145.83 525.29,143.96 526.87,142.12 528.45,140.30 530.03,138.50 531.60,136.72 533.18,134.96 534.76,133.23 536.33,131.51 537.91,129.81 539.49,128.13 541.07,126.47 542.64,124.83 544.22,123.20 545.80,121.59 547.37,120.00 548.95,118.42 550.53,116.86 552.11,115.31 553.68,113.78 555.26,112.26 556.84,110.76 558.42,109.27 559.99,107.80 561.57,106.34 563.15,104.89 564.72,103.46 566.30,102.04 567.88,100.63 569.46,99.23 571.03,97.85 572.61,96.48 574.19,95.12 575.76,93.77 577.34,92.43 578.92,91.10 580.50,89.78 582.07,88.48 583.65,87.18 585.23,85.90 586.81,84.62 588.38,83.36 589.96,82.10 591.54,80.86 593.11,79.62 594.69,78.40 596.27,77.18 597.85,75.97 599.42,74.77 601.00,73.58" fill="none" stroke="#9aa9c2" stroke-width="2.9" stroke-dasharray="11.4 10"/>
<path d="M476.40,226.88 477.98,222.40 479.55,218.46 481.13,214.86 482.71,211.50 484.29,208.33 485.86,205.31 487.44,202.42 489.02,199.64 490.59,196.96 492.17,194.36 493.75,191.85 495.33,189.41 496.90,187.03 498.48,184.72 500.06,182.47 501.64,180.27 503.21,178.13 504.79,176.04 506.37,173.99 507.94,171.99 509.52,170.04 511.10,168.12 512.68,166.25 514.25,164.41 515.83,162.61 517.41,160.85 518.98,159.11 520.56,157.41 522.14,155.74 523.72,154.10 525.29,152.49 526.87,150.91 528.45,149.35 530.03,147.82 531.60,146.31 533.18,144.83 534.76,143.37 536.33,141.93 537.91,140.52 539.49,139.12 541.07,137.74 542.64,136.39 544.22,135.05 545.80,133.73 547.37,132.42 548.95,131.13 550.53,129.86 552.11,128.61 553.68,127.37 555.26,126.14 556.84,124.93 558.42,123.73 559.99,122.55 561.57,121.37 563.15,120.21 564.72,119.07 566.30,117.93 567.88,116.81 569.46,115.69 571.03,114.59 572.61,113.50 574.19,112.42 575.76,111.35 577.34,110.28 578.92,109.23 580.50,108.19 582.07,107.15 583.65,106.13 585.23,105.11 586.81,104.10 588.38,103.10 589.96,102.10 591.54,101.12 593.11,100.14 594.69,99.17 596.27,98.20 597.85,97.24 599.42,96.29 601.00,95.35" fill="none" stroke="#e39aa6" stroke-width="2.9" stroke-dasharray="11.4 10"/>
<path d="M476.40,221.57 477.98,212.73 479.55,205.81 481.13,199.92 482.71,194.71 484.29,189.98 485.86,185.62 487.44,181.56 489.02,177.74 490.59,174.12 492.17,170.68 493.75,167.39 495.33,164.23 496.90,161.19 498.48,158.26 500.06,155.42 501.64,152.67 503.21,150.00 504.79,147.40 506.37,144.86 507.94,142.39 509.52,139.98 511.10,137.62 512.68,135.31 514.25,133.05 515.83,130.83 517.41,128.65 518.98,126.52 520.56,124.42 522.14,122.36 523.72,120.33 525.29,118.33 526.87,116.37 528.45,114.43 530.03,112.52 531.60,110.64 533.18,108.79 534.76,106.96 536.33,105.15 537.91,103.37 539.49,101.60 541.07,99.86 542.64,98.14 544.22,96.45 545.80,94.76 547.37,93.10 548.95,91.46 550.53,89.83 552.11,88.22 553.68,86.63 555.26,85.05 556.84,83.49 558.42,81.94 559.99,80.41 561.57,78.89 563.15,77.38 564.72,75.89 566.30,74.41 567.88,72.94 569.46,71.49 571.03,70.05 572.61,68.62 574.19,67.20 575.76,65.79 577.34,64.39 578.92,63.01 580.50,61.63 582.07,60.27 583.65,58.91 585.23,57.57 586.81,56.23 588.38,54.90 589.96,53.58 591.54,52.28 593.11,50.98 594.69,49.69 596.27,48.40 597.85,47.13 599.42,45.86 601.00,44.60" fill="none" stroke="#650f3c" stroke-width="3.0"/>
<path d="M476.40,221.57 477.98,214.58 479.55,208.89 481.13,203.98 482.71,199.58 484.29,195.57 485.86,191.85 487.44,188.38 489.02,185.10 490.59,182.00 492.17,179.03 493.75,176.20 495.33,173.47 496.90,170.85 498.48,168.31 500.06,165.86 501.64,163.47 503.21,161.16 504.79,158.90 506.37,156.71 507.94,154.56 509.52,152.47 511.10,150.42 512.68,148.41 514.25,146.45 515.83,144.52 517.41,142.63 518.98,140.77 520.56,138.95 522.14,137.16 523.72,135.39 525.29,133.65 526.87,131.94 528.45,130.26 530.03,128.60 531.60,126.96 533.18,125.35 534.76,123.75 536.33,122.18 537.91,120.63 539.49,119.09 541.07,117.57 542.64,116.08 544.22,114.60 545.80,113.13 547.37,111.68 548.95,110.25 550.53,108.83 552.11,107.43 553.68,106.04 555.26,104.66 556.84,103.30 558.42,101.95 559.99,100.61 561.57,99.29 563.15,97.98 564.72,96.67 566.30,95.38 567.88,94.10 569.46,92.84 571.03,91.58 572.61,90.33 574.19,89.09 575.76,87.86 577.34,86.65 578.92,85.44 580.50,84.24 582.07,83.04 583.65,81.86 585.23,80.69 586.81,79.52 588.38,78.36 589.96,77.21 591.54,76.07 593.11,74.94 594.69,73.81 596.27,72.69 597.85,71.58 599.42,70.47 601.00,69.37" fill="none" stroke="#0f2355" stroke-width="3.0"/>
<path d="M476.40,221.57 477.98,216.34 479.55,211.91 481.13,208.00 482.71,204.46 484.29,201.20 485.86,198.16 487.44,195.30 489.02,192.60 490.59,190.03 492.17,187.57 493.75,185.22 495.33,182.95 496.90,180.76 498.48,178.64 500.06,176.59 501.64,174.59 503.21,172.65 504.79,170.76 506.37,168.92 507.94,167.12 509.52,165.36 511.10,163.64 512.68,161.95 514.25,160.30 515.83,158.68 517.41,157.08 518.98,155.52 520.56,153.98 522.14,152.47 523.72,150.98 525.29,149.52 526.87,148.08 528.45,146.65 530.03,145.25 531.60,143.87 533.18,142.51 534.76,141.16 536.33,139.83 537.91,138.52 539.49,137.22 541.07,135.94 542.64,134.67 544.22,133.42 545.80,132.18 547.37,130.96 548.95,129.75 550.53,128.55 552.11,127.36 553.68,126.18 555.26,125.02 556.84,123.87 558.42,122.72 559.99,121.59 561.57,120.47 563.15,119.36 564.72,118.26 566.30,117.17 567.88,116.08 569.46,115.01 571.03,113.94 572.61,112.89 574.19,111.84 575.76,110.80 577.34,109.76 578.92,108.74 580.50,107.72 582.07,106.71 583.65,105.71 585.23,104.72 586.81,103.73 588.38,102.75 589.96,101.77 591.54,100.80 593.11,99.84 594.69,98.89 596.27,97.94 597.85,96.99 599.42,96.06 601.00,95.12" fill="none" stroke="#be0a2d" stroke-width="3.0"/>
<text x="608.60" y="51.40" style="font-size:17.3px" fill="#650f3c">ER = 0.16</text>
<rect x="667.29" y="48.91" width="3.83" height="3.49" fill="#fff"/>
<rect x="672.66" y="48.91" width="3.70" height="3.49" fill="#fff"/>
<text x="608.60" y="76.20" style="font-size:17.3px" fill="#0f2355">ER = 0.06</text>
<text x="608.60" y="101.10" style="font-size:17.3px" fill="#be0a2d">ER = 0.36</text>
<rect x="501.5" y="197.9" width="114" height="42.9" fill="#fff" stroke="#a0a0a0" stroke-width="1"/>
<line x1="505.3" y1="209.6" x2="535.1" y2="209.6" stroke="#b0001e" stroke-width="2.6"/>
<line x1="505.3" y1="229.3" x2="535.1" y2="229.3" stroke="#dc8494" stroke-width="2.6" stroke-dasharray="11.6 11.1"/>
<text x="543.5" y="215.2" class="lg">Theory</text>
<text x="543.5" y="234.6" class="lg">Simulation</text></svg></div></body></html>
